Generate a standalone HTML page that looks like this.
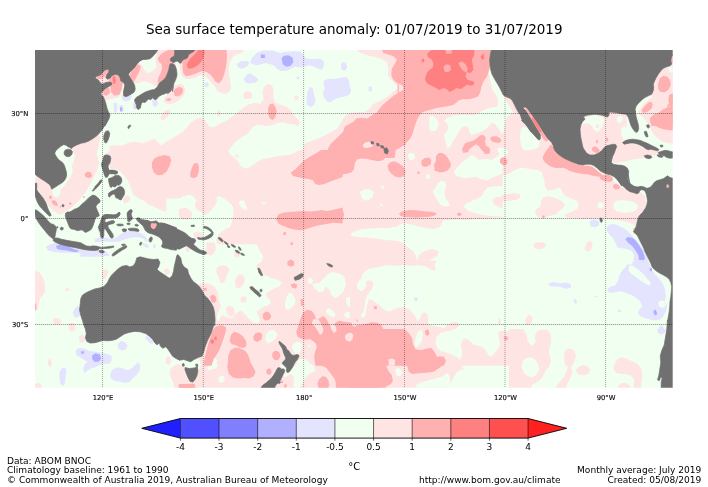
<!DOCTYPE html>
<html lang="en">
<head>
<meta charset="utf-8">
<title>Sea surface temperature anomaly: 01/07/2019 to 31/07/2019</title>
<style>
html,body{margin:0;padding:0;background:#fff;}
body{width:708px;height:487px;overflow:hidden;font-family:"DejaVu Sans","Liberation Sans",sans-serif;}
svg{display:block;font-family:"DejaVu Sans","Liberation Sans",sans-serif;}
</style>
</head>
<body>
<svg width="708" height="487" viewBox="0 0 708 487">
<rect width="708" height="487" fill="#fff"/>
<defs><clipPath id="mapclip"><rect x="35.0" y="50.0" width="637.7" height="337.7"/></clipPath></defs>
<text x="354.2" y="34.2" text-anchor="middle" font-size="13.5" fill="#000">Sea surface temperature anomaly: 01/07/2019 to 31/07/2019</text>
<rect x="35.0" y="50.0" width="637.7" height="337.7" fill="#f0fff0"/>
<g clip-path="url(#mapclip)">
<g fill="#ffe4e4">
<polygon points="93.2,67.6 113.6,67.6 122.6,72.1 123.7,78.9 122.6,85.7 121.5,91.3 120.3,95.8 115.8,98.1 110.2,99.2 104.5,100.4 101.1,101.5 93.2,101.5"/>
<polygon points="155.4,48.4 176.8,48.4 174.6,85.7 156.5,86.8 150.8,83.4 145.2,81.2 140.7,82.3 136.2,83.4 131.6,83.9 128.2,81.2 128.2,74.4 131.6,68.7 136.2,64.2 139.5,63.1 142.9,66.5 145.2,71.0 148.6,73.2 153.1,71.0 156.5,66.5 155.4,60.8 156.5,55.2"/>
<polygon points="176.8,48.4 244.6,48.4 242.4,52.9 237.9,54.0 233.3,56.3 229.9,61.9 228.8,69.9 229.9,78.9 231.1,86.8 229.9,91.3 226.6,93.6 222.0,93.6 217.5,91.3 215.3,86.8 211.9,83.4 208.5,78.9 204.0,75.5 199.4,75.5 194.9,77.8 189.3,78.9 184.7,78.4 181.4,75.5 180.2,69.9 179.1,63.1 178.0,56.3"/>
<polygon points="164.4,98.1 167.8,93.6 171.2,89.1 175.7,85.2 180.2,83.4 184.1,85.7 185.4,90.2 184.1,95.2 180.2,99.2 175.7,102.6 170.1,104.2 165.5,103.3 163.7,101.0"/>
<polygon points="242.8,95.2 244.6,92.0 248.0,90.9 251.0,92.9 251.0,96.5 248.0,99.2 244.6,98.8"/>
<polygon points="217.1,111.7 219.3,110.1 220.9,112.8 219.3,116.9 217.1,115.5"/>
<polygon points="160.6,117.3 162.1,113.9 165.5,110.5 168.9,109.4 170.5,111.7 167.8,116.2 164.4,119.6 161.0,120.7"/>
<polygon points="104.5,155.1 109.0,151.2 115.8,149.0 122.6,145.6 129.4,142.2 136.2,141.7 142.9,143.3 148.6,141.0 154.2,138.8 158.3,142.2 161.0,145.6 165.5,142.2 171.2,138.8 176.8,135.4 182.5,132.0 187.0,127.5 190.4,123.0 194.9,119.6 200.6,117.3 205.1,119.6 207.3,124.1 210.7,127.5 215.3,126.4 220.9,123.0 226.6,120.7 231.1,117.3 235.6,113.9 240.1,110.5 244.6,107.1 249.2,104.2 254.8,103.3 262.7,104.2 262.7,158.0 104.5,158.0"/>
<polygon points="250.0,104.2 254.5,103.3 260.2,104.2 263.6,99.2 262.4,92.5 264.0,86.8 268.1,83.9 272.1,85.7 273.7,90.2 273.1,97.0 275.3,102.6 280.5,104.9 286.2,106.5 290.7,110.5 295.2,116.2 299.3,120.7 299.7,124.1 296.3,126.8 290.7,124.5 283.9,122.3 277.1,123.0 271.5,125.2 265.8,126.4 259.0,124.5 253.4,123.0 250.0,123.0"/>
<polygon points="294.1,97.0 296.3,95.2 298.6,96.5 297.9,99.7 295.2,100.6"/>
<polygon points="247.7,92.5 251.1,92.5 252.3,95.8 251.1,98.8 247.7,98.8"/>
<polygon points="302.0,158.0 303.1,147.8 305.4,143.3 311.0,141.0 317.8,138.8 324.6,135.4 331.4,132.0 337.0,128.6 340.4,124.1 342.7,118.4 346.0,115.1 351.7,112.8 358.5,112.3 365.3,111.7 369.8,108.3 373.2,104.2 378.8,101.5 385.6,98.1 391.2,93.6 396.4,89.1 396.9,85.7 393.5,82.3 390.1,78.9 387.9,74.4 388.3,68.7 387.4,63.1 383.3,59.7 376.6,57.4 369.8,55.8 363.0,54.0 358.5,51.8 356.2,48.4 405.9,48.4 405.9,158.0"/>
<polygon points="398.3,88.3 520.0,88.3 520.0,173.3 398.3,173.3"/>
<polygon points="576.7,111.7 626.7,111.7 626.7,128.3 623.3,140.0 615.0,145.0 601.7,158.3 576.7,158.3"/>
<polygon points="640.0,95.0 640.0,48.3 675.0,48.3 675.0,143.3 668.3,143.3 663.3,141.7 660.0,140.0 656.7,137.5 653.3,134.2 650.8,130.0 649.2,125.8 646.7,121.7 643.3,117.5 640.0,115.0 638.3,111.7 640.0,109.2 642.5,105.8 645.0,102.5 648.3,99.2 650.8,95.0"/>
<polygon points="612.5,145.0 615.0,143.3 623.3,141.7 630.0,142.5 638.3,145.0 646.7,148.3 653.3,150.0 660.0,150.8 664.2,152.5 661.7,155.0 656.7,155.3 651.7,155.8 646.7,157.5 641.7,158.3 636.7,158.7 631.7,159.7 626.7,161.3 621.7,162.0 616.7,163.0 612.5,162.5 611.7,158.3 613.0,153.3 614.2,149.2"/>
<polygon points="75.2,136.4 95.5,136.4 95.5,150.0 97.8,156.8 98.9,163.6 96.7,171.5 93.3,178.2 89.9,185.0 86.5,190.7 83.1,195.2 78.6,200.8 74.1,205.4 69.5,209.2 65.0,212.1 61.6,214.4 57.1,213.3 52.6,209.9 49.2,206.5 45.8,202.0 42.4,196.3 39.0,190.7 36.3,185.0 35.0,179.4 36.8,176.0 41.3,177.1 45.8,180.5 50.3,183.9 53.7,187.3 57.1,190.7 60.5,189.5 63.9,186.2 67.3,181.6 70.7,177.1 72.9,171.5 71.8,165.8 74.1,160.2 75.2,154.5"/>
<polygon points="110.2,145.5 192.7,145.5 192.7,214.4 185.9,212.1 184.8,206.5 183.7,200.8 179.2,198.6 174.6,200.2 171.2,204.2 169.0,209.2 164.5,211.5 158.8,209.2 153.2,206.5 147.5,204.2 144.1,200.8 138.5,198.6 132.8,194.1 130.6,187.3 127.2,179.4 120.4,171.5 114.7,169.2 110.2,168.1 108.0,156.8"/>
<polygon points="123.2,198.9 124.9,196.6 127.2,195.5 129.5,196.6 130.6,198.9 128.9,201.2 126.6,202.9 124.4,203.4 123.0,201.7"/>
<polygon points="180.0,150.0 342.7,150.0 342.7,260.1 180.0,260.1"/>
<polygon points="340.0,150.0 502.7,150.0 502.7,260.1 340.0,260.1"/>
<polygon points="513.6,148.9 556.5,148.9 567.8,159.0 590.4,168.1 606.2,174.9 617.5,183.9 631.1,190.7 639.0,191.8 644.6,195.2 646.9,204.2 641.2,213.3 635.6,225.7 632.2,223.4 626.6,221.9 619.8,220.5 613.0,219.6 606.2,218.9 599.4,218.2 590.4,218.9 581.4,218.9 574.6,218.2 567.8,217.8 563.3,216.0 567.8,213.3 572.3,211.5 576.8,209.2 579.1,205.4 576.8,200.8 571.2,198.6 565.5,196.3 562.1,191.8 559.9,187.3 554.2,189.5 547.5,190.7 545.2,186.2 544.1,179.4 541.8,172.6 537.3,169.2 529.4,168.1 521.5,165.8 515.8,159.0"/>
<polygon points="498.9,195.2 506.8,194.1 513.6,192.9 519.2,194.1 520.8,197.0 516.9,199.7 510.2,200.8 504.5,201.5 498.9,201.5"/>
<polygon points="535.0,213.3 536.2,209.2 540.2,206.5 541.1,200.8 543.4,197.0 548.6,196.3 555.4,197.9 561.0,200.8 565.1,204.2 563.3,208.3 559.2,211.0 555.4,214.4 549.7,216.0 544.1,217.8 538.4,217.3"/>
<polygon points="533.4,243.8 537.3,242.2 542.9,242.2 546.3,244.5 544.1,248.3 538.4,249.4 533.9,247.6"/>
<polygon points="584.7,247.2 587.0,242.2 590.4,240.4 592.7,243.8 591.5,249.0 588.6,251.7 585.4,250.6"/>
<polygon points="498.9,155.6 505.6,156.3 510.2,160.2 511.3,165.8 510.2,171.5 506.8,174.9 498.9,175.3"/>
<polygon points="33.4,270.8 39.0,271.9 42.4,276.5 44.7,283.2 45.4,290.0 43.6,294.5 40.2,297.9 39.0,303.6 37.9,309.2 33.4,310.4"/>
<polygon points="52.6,319.4 56.0,317.8 60.5,319.4 61.6,322.8 58.2,325.1 53.7,323.9"/>
<polygon points="68.4,323.9 71.8,322.3 75.2,323.9 75.2,329.6 71.8,331.8 68.9,329.6"/>
<polygon points="79.3,336.4 82.0,334.5 84.7,336.4 84.7,340.9 82.0,343.1 79.3,341.3"/>
<polygon points="65.0,288.9 67.3,288.0 69.5,289.4 68.0,291.2 65.5,290.7"/>
<polygon points="102.3,270.8 105.7,269.0 108.6,271.3 106.8,276.5 103.4,279.9 101.9,276.5"/>
<polygon points="163.3,269.7 166.7,268.1 170.1,270.4 169.0,274.2 165.1,274.9"/>
<polygon points="165.6,357.8 169.0,356.7 170.6,361.2 169.0,365.1 166.0,363.5"/>
<polygon points="48.1,360.1 50.3,358.5 51.5,365.1 47.6,365.1"/>
<polygon points="190.0,255.0 352.7,255.0 352.7,365.7 190.0,365.7"/>
<polygon points="348.9,253.9 435.9,253.9 437.0,259.5 434.7,265.2 435.9,270.8 431.4,269.7 425.7,266.3 417.8,265.2 411.0,265.8 404.2,265.2 395.2,265.8 387.3,265.2 381.6,266.3 376.0,267.4 370.3,268.6 365.8,270.8 362.4,274.2 361.3,278.7 359.0,281.0 356.8,284.4 357.9,288.9 361.3,291.2 364.7,288.9 366.3,285.5 365.8,282.1 368.1,280.3 372.1,281.0 373.7,284.4 372.1,288.9 369.2,292.3 366.9,295.7 365.4,300.2 364.7,305.8 363.6,311.5 361.3,313.8 360.8,317.1 363.6,317.8 365.8,314.9 366.3,309.2 367.6,303.6 369.2,299.1 372.6,300.2 377.1,303.6 381.6,307.0 385.0,310.4 389.5,311.5 394.1,309.2 398.6,307.4 404.2,307.0 409.2,309.2 412.8,313.3 415.5,317.1 417.8,321.7 420.1,318.3 422.3,313.3 425.7,312.6 428.0,316.0 428.0,321.7 429.1,325.1 434.7,326.2 440.4,326.9 444.5,328.4 447.2,325.1 451.7,322.3 457.3,322.3 459.6,325.1 456.2,328.4 450.6,330.7 444.9,331.8 440.4,333.0 437.0,336.4 435.4,342.0 437.0,347.7 440.4,351.0 446.0,352.6 451.7,354.4 456.2,356.7 459.6,360.1 461.9,355.6 461.9,349.9 460.7,344.3 463.0,339.7 466.4,338.2 469.8,340.9 473.2,344.3 476.6,345.4 481.1,346.5 485.6,349.9 487.9,354.4 491.2,356.7 494.6,353.3 498.0,348.8 500.3,344.3 499.2,338.6 498.0,333.0 500.3,330.7 504.8,330.7 512.7,331.8 512.7,365.7 348.9,365.7"/>
<polygon points="498.0,318.7 500.5,318.3 501.0,323.5 498.5,323.9"/>
<polygon points="508.9,333.0 513.4,334.1 515.6,338.6 517.9,343.1 519.0,337.5 521.3,333.0 524.7,331.4 526.9,335.2 527.6,340.9 531.5,345.4 534.9,347.7 536.0,342.0 534.9,337.5 538.2,334.1 541.6,330.7 546.2,329.6 549.5,333.0 551.1,338.6 550.2,344.3 548.4,349.9 549.5,355.6 550.7,361.2 548.4,365.7 508.9,365.7"/>
<polygon points="525.4,319.4 527.6,315.6 530.8,314.9 532.6,318.3 531.5,322.8 528.1,325.5 525.4,323.9"/>
<polygon points="564.2,354.4 566.5,350.4 570.6,348.8 574.4,351.0 576.0,355.6 574.4,361.2 572.1,365.7 565.4,365.7 564.2,360.1"/>
<polygon points="616.2,362.3 619.6,359.0 624.1,357.8 628.6,359.4 632.0,363.0 633.2,365.7 615.8,365.7"/>
<polygon points="170.1,369.5 173.5,366.2 178.0,363.9 182.5,365.7 185.9,369.5 188.2,374.1 192.7,378.6 192.7,388.8 174.6,388.8 173.5,383.1 171.2,378.6 169.7,374.1"/>
<polygon points="166.7,357.1 169.7,356.0 171.2,360.5 169.7,364.4 166.9,362.8"/>
<polygon points="33.4,384.2 39.0,383.1 41.8,385.4 41.3,388.8 33.4,388.8"/>
<polygon points="48.1,361.6 50.3,359.4 52.1,362.8 50.8,366.6 48.5,365.7"/>
<polygon points="383.9,361.6 447.2,361.6 452.8,363.9 456.2,360.5 464.1,368.9 459.6,370.2 456.2,372.9 453.5,377.5 451.2,382.0 449.4,388.8 415.5,388.8 383.9,388.8"/>
<polygon points="508.9,328.9 523.6,328.9 525.8,334.5 523.6,340.2 524.7,345.8 528.1,348.1 532.6,345.8 536.0,341.3 534.9,335.6 537.1,331.1 541.6,330.0 547.3,330.0 550.7,334.5 551.1,341.3 549.5,348.1 548.4,354.9 550.7,360.5 549.5,366.2 546.2,369.5 543.9,374.1 541.6,378.6 537.1,382.0 532.6,384.2 530.3,388.8 508.9,388.8"/>
<polygon points="564.2,354.9 565.4,350.3 569.2,348.5 573.3,350.3 575.1,354.9 573.3,360.5 571.0,366.2 572.1,371.8 570.6,377.5 567.6,383.1 565.4,388.8 555.2,388.8 557.5,384.2 560.8,380.8 564.2,376.3 566.5,371.8 567.6,367.3 566.0,361.6"/>
<polygon points="575.5,370.7 578.9,366.6 583.4,365.0 588.0,366.2 590.2,370.2 588.0,374.1 583.4,375.2 578.9,374.7"/>
<polygon points="613.5,369.5 615.1,362.8 618.5,358.2 623.0,357.1 627.5,359.4 633.2,361.6 637.7,363.9 641.1,368.4 642.2,375.2 641.5,382.0 641.1,388.8 633.2,388.8 634.3,382.0 633.2,377.5 629.8,375.2 625.3,374.1 620.7,374.1 616.2,372.9"/>
<polygon points="618.5,385.4 621.9,383.1 626.4,383.1 629.8,385.4 630.9,388.8 618.0,388.8"/>
<polygon points="188.9,363.9 352.7,363.9 352.7,389.2 188.9,389.2"/>
<polygon points="518.3,113.3 521.7,111.7 556.7,141.7 560.0,155.0 545.0,170.0 518.3,170.0"/>
<polygon points="71.8,140.7 84.2,137.3 97.8,131.6 100.5,137.3 98.9,145.2 96.7,153.1 93.3,158.8 84.2,156.5 75.2,155.4 71.8,148.6"/>
<polygon points="478.0,74.4 488.6,69.4 489.9,78.9 492.2,90.2 479.1,91.3"/>
</g>
<g fill="#f0fff0">
<polygon points="429.2,116.7 432.5,115.8 435.8,118.3 438.7,122.5 437.5,127.5 435.8,130.8 431.7,131.3 429.2,129.2"/>
<polygon points="444.2,120.8 447.5,117.5 453.3,115.8 460.0,115.0 466.7,115.0 473.3,115.3 478.3,113.3 482.5,110.8 486.7,108.7 491.7,107.5 496.7,106.7 498.3,103.3 497.5,98.3 495.0,93.3 492.5,90.0 492.5,80.0 500.0,80.0 500.0,90.0 503.3,95.8 506.7,101.7 510.0,106.7 513.3,112.5 510.0,115.0 506.7,117.5 505.3,123.3 504.2,129.2 502.5,134.2 500.0,130.8 497.5,127.5 495.0,124.2 492.5,122.5 490.0,125.0 486.7,128.3 483.3,130.8 479.2,132.5 475.0,133.7 471.7,135.0 469.2,131.7 468.3,127.5 465.8,125.8 462.5,126.7 460.0,130.0 457.5,134.2 455.0,138.3 452.5,142.5 450.0,146.7 447.5,149.2 446.3,145.0 445.0,140.0 444.2,135.0 446.7,131.7 448.3,127.5 447.5,124.2"/>
<polygon points="455.0,171.0 457.5,166.7 460.8,163.3 465.0,160.0 469.2,156.7 472.5,155.0 475.0,156.7 478.3,160.0 481.7,162.5 486.7,161.7 491.7,160.0 496.7,156.7 500.0,153.3 499.2,149.2 501.7,148.3 504.2,150.8 505.0,156.7 503.3,161.7 500.0,165.0 495.8,167.5 493.3,171.0"/>
<polygon points="408.3,155.8 410.8,153.0 414.2,154.2 415.3,156.7 413.3,159.7 410.0,159.7"/>
<polygon points="581.7,121.7 585.0,118.3 589.2,116.3 593.3,115.3 598.3,115.8 602.5,117.5 604.2,120.0 603.7,123.3 601.7,127.5 599.2,130.8 596.7,132.0 594.2,130.0 592.5,126.7 590.0,124.2 586.7,123.3 583.3,124.2 580.8,125.0"/>
<polygon points="616.7,117.5 620.0,115.8 623.0,117.5 622.0,121.7 619.2,123.3 617.0,121.7"/>
<polygon points="620.8,129.2 624.2,125.8 626.7,127.5 630.0,130.8 634.2,133.0 638.3,134.2 640.0,136.7 635.8,138.0 630.8,138.7 626.7,139.7 623.3,138.7 621.3,135.0"/>
<polygon points="643.3,100.0 646.7,97.5 650.8,95.0 652.5,96.7 648.3,100.0 645.0,102.5 642.5,103.3"/>
<polygon points="668.3,67.5 670.8,66.7 675.0,67.5 675.0,71.7 670.0,72.5 668.3,70.0"/>
<polygon points="52.6,188.0 57.1,186.2 60.5,189.5 59.4,194.1 55.3,195.2 52.1,192.5"/>
<polygon points="52.6,191.1 55.4,190.0 59.4,190.0 60.5,192.3 59.6,195.1 57.7,197.0 55.4,197.3 53.5,195.6 52.6,193.4"/>
<polygon points="228.6,148.9 299.8,148.9 295.3,152.3 288.5,153.4 281.7,154.1 274.9,155.0 268.1,156.8 261.4,159.0 255.7,162.4 251.2,165.8 246.7,168.1 242.1,166.9 239.2,163.6 238.3,159.0 235.4,155.6 230.8,153.4"/>
<polygon points="166.4,198.6 180.0,198.6 183.4,196.3 189.0,194.7 193.6,196.3 196.3,200.8 194.7,205.4 196.9,209.9 201.5,212.1 204.9,215.5 208.2,213.3 211.6,209.9 215.0,205.4 217.3,200.8 216.2,197.5 219.5,196.3 224.1,198.6 228.6,202.0 232.4,205.4 233.8,209.9 233.1,215.5 232.0,221.2 230.8,225.7 228.6,228.0 225.2,229.1 221.8,231.4 218.4,234.7 216.2,239.3 217.3,243.8 219.5,247.2 225.2,249.4 232.0,250.6 238.8,251.7 245.5,252.8 252.3,252.1 258.0,251.7 261.8,254.0 263.2,257.3 261.4,260.7 166.4,260.7"/>
<polygon points="238.3,203.1 241.0,200.2 244.4,200.8 246.0,205.4 247.8,209.2 244.4,209.9 241.0,206.9"/>
<polygon points="261.8,202.4 265.4,202.0 265.9,204.2 262.3,204.2"/>
<polygon points="350.2,234.7 353.6,231.8 360.3,229.5 369.4,228.6 378.4,228.0 387.5,228.0 396.5,226.8 401.0,224.1 405.5,223.4 412.3,224.6 419.1,226.4 425.9,228.0 432.7,229.1 438.3,228.0 441.7,224.6 442.8,220.5 448.5,220.1 457.5,219.6 466.6,220.1 475.6,218.9 484.6,218.9 493.7,217.8 502.7,217.8 502.7,260.7 416.8,260.7 415.7,255.1 412.3,250.6 407.8,247.2 404.4,243.8 398.8,241.1 392.0,240.4 385.2,239.9 378.4,238.8 371.6,238.1 364.9,237.5 358.1,237.0 352.4,236.3"/>
<polygon points="359.9,191.8 363.7,189.5 369.4,188.9 373.4,191.8 372.8,196.3 369.4,199.7 364.9,200.8 361.5,197.9"/>
<polygon points="381.1,185.7 384.1,185.7 384.1,188.4 381.1,188.4"/>
<polygon points="380.2,203.8 382.5,203.8 382.5,206.0 380.2,206.0"/>
<polygon points="407.8,154.5 410.5,152.7 414.1,154.1 415.0,157.2 412.3,160.2 408.9,159.0"/>
<polygon points="425.9,176.0 428.6,173.7 430.4,176.0 429.3,178.9 426.3,178.9"/>
<polygon points="432.7,190.7 436.0,187.3 438.3,182.8 441.7,180.5 445.1,181.6 446.2,186.2 444.4,191.8 445.1,197.5 448.0,201.5 450.3,205.4 446.2,206.5 441.7,205.4 438.3,202.0 436.0,197.5 433.8,194.1"/>
<polygon points="454.1,171.5 457.5,166.9 462.0,163.6 467.7,161.8 473.3,160.8 480.1,159.5 486.9,159.0 493.7,160.2 502.7,162.4 502.7,173.7 495.9,176.0 491.4,178.2 486.9,180.5 481.2,178.9 475.6,177.1 469.9,177.6 464.3,178.2 458.6,176.7 455.3,174.4"/>
<polygon points="463.2,206.5 466.6,203.1 472.2,200.8 477.9,198.6 482.4,195.2 484.6,190.7 488.0,187.3 493.7,186.2 502.7,186.2 502.7,196.3 495.9,197.0 492.5,199.7 493.7,204.2 498.2,206.5 502.7,209.2 502.7,216.7 493.7,216.0 486.9,215.5 480.1,214.4 473.3,212.8 467.7,210.6"/>
<polygon points="597.2,204.2 599.9,202.0 603.5,203.1 604.0,206.5 601.2,208.3 597.6,207.6"/>
<polygon points="613.0,204.2 616.4,200.8 622.0,200.2 628.8,200.8 634.5,202.4 637.9,205.4 636.7,209.9 632.2,212.1 625.4,212.8 618.6,212.1 614.1,209.2"/>
<polygon points="312.0,284.4 315.4,288.9 318.8,292.3 323.3,291.2 325.6,286.6 329.0,288.9 331.2,294.5 334.6,297.9 339.2,295.7 343.7,291.2 345.9,284.4 344.8,277.6 341.4,274.2 336.9,273.1 332.4,271.9 329.0,273.1 325.6,276.5 322.2,279.9 318.8,283.2 315.4,283.2"/>
<polygon points="307.5,278.7 310.9,277.6 313.2,280.3 311.6,283.9 308.0,283.2"/>
<polygon points="325.6,310.4 329.0,308.1 332.4,310.4 335.8,314.2 334.2,317.1 330.1,316.0 326.7,313.3"/>
<polygon points="343.7,314.2 347.1,311.9 350.0,312.6 350.0,317.8 345.9,318.3"/>
<polygon points="345.9,297.9 350.0,296.8 350.0,307.0 347.1,305.8"/>
<polygon points="188.9,361.2 194.5,357.8 199.0,359.0 201.3,365.7 188.9,365.7"/>
<polygon points="211.5,357.8 214.9,356.7 217.1,361.2 215.3,365.7 211.5,365.7"/>
<polygon points="189.2,244.2 206.7,244.2 205.8,250.0 207.5,254.2 210.8,255.8 214.2,253.3 215.8,249.2 215.0,244.2 256.7,244.2 260.0,251.7 263.3,256.7 261.7,261.7 256.7,265.0 256.7,268.3 260.0,271.7 265.0,275.0 271.7,278.3 278.3,280.0 281.7,282.5 280.0,285.8 275.0,288.3 270.0,290.8 265.8,293.3 266.7,296.7 270.0,300.0 270.8,303.3 267.5,305.8 263.3,306.7 260.0,309.2 256.7,311.7 258.3,315.0 260.0,320.0 258.3,323.3 253.3,322.5 248.3,318.3 245.0,314.2 241.7,310.8 238.3,311.7 235.0,314.2 233.3,317.5 230.0,318.3 225.8,316.7 222.5,315.0 220.0,318.3 218.3,321.7 216.7,318.3 217.5,313.3 220.0,309.2 220.8,305.0 219.2,300.8 218.3,295.8 217.5,291.7 215.0,287.5 211.7,285.0 207.5,283.3 203.3,283.0 200.0,283.7 196.7,285.0 193.3,284.2 189.2,278.3"/>
<polygon points="285.0,301.7 286.7,296.7 289.2,292.5 292.0,293.3 294.2,296.7 295.8,300.8 294.2,305.0 290.8,308.3 287.5,310.0 285.0,307.5"/>
<polygon points="414.4,345.4 415.5,338.6 417.8,331.8 421.2,329.6 422.8,334.1 421.9,340.9 418.9,345.4 416.0,347.7"/>
<polygon points="206.9,367.3 210.3,363.9 214.9,362.8 218.2,365.0 216.0,368.4 211.5,369.5 208.1,370.7"/>
<polygon points="218.2,378.6 220.5,375.2 223.9,376.3 225.0,380.2 222.1,383.1 218.9,382.0"/>
<polygon points="188.9,363.9 194.5,361.6 199.0,363.9 200.2,368.4 196.8,371.8 192.3,370.7 188.9,369.5"/>
<polygon points="265.7,334.5 269.1,331.1 273.6,330.0 277.0,333.4 275.9,337.9 272.5,341.3 268.0,342.4 265.7,339.0"/>
<polygon points="415.5,388.8 416.7,384.2 422.3,382.0 429.1,380.2 435.9,378.6 442.7,376.3 447.2,372.9 449.4,375.2 450.6,382.0 449.4,388.8"/>
<polygon points="395.2,369.5 397.9,368.0 401.5,369.5 402.4,373.4 399.7,376.3 396.3,375.2"/>
<polygon points="522.4,361.6 525.8,358.2 530.3,357.1 534.9,359.4 538.2,363.9 539.4,369.5 537.1,374.1 532.6,377.5 528.1,376.3 524.0,372.9 521.8,367.3"/>
<polygon points="292.5,345.0 295.0,342.5 299.2,341.7 301.7,344.2 301.3,348.3 300.0,351.7 299.2,355.0 295.8,354.2 293.3,350.8 292.0,347.5"/>
<polygon points="298.3,360.0 303.3,358.3 307.5,360.8 310.8,364.2 314.2,366.7 315.0,370.0 312.5,372.5 309.2,373.3 306.7,376.7 304.2,380.0 301.7,384.2 299.2,388.3 294.2,388.3 293.3,384.2 294.2,380.0 293.3,375.8 290.8,374.2 287.5,375.8 285.0,377.5 283.3,375.8 285.0,372.5 287.5,370.0 290.8,368.3 294.2,366.7 296.7,363.3"/>
<polygon points="265.0,340.0 266.7,335.0 269.2,331.7 272.5,330.3 275.8,331.7 277.5,334.2 275.8,337.5 273.3,340.0 270.8,342.5 267.5,343.3"/>
<polygon points="280.0,365.8 282.5,364.2 285.0,365.0 285.8,368.3 283.3,370.0 280.8,369.2"/>
<polygon points="307.5,345.8 309.2,345.0 310.3,346.7 308.7,348.0"/>
<polygon points="228.6,151.0 234.2,143.1 241.0,137.5 247.8,134.1 252.3,127.3 258.0,124.4 265.9,126.2 274.9,125.7 284.0,123.9 293.0,123.9 299.8,127.3 303.2,130.7 303.2,149.2 297.5,151.0 290.7,154.4 284.0,155.5 277.2,156.0 270.4,157.8 263.6,158.9 258.0,161.2 252.3,165.7 246.7,168.6 241.0,166.8 238.3,161.2 234.2,157.8 230.2,154.4"/>
<polygon points="520.8,129.2 523.3,126.7 527.5,127.5 530.8,130.8 534.2,135.0 537.5,139.2 540.0,143.7 538.3,147.5 534.2,149.2 530.0,150.0 525.8,150.8 522.5,149.2 520.8,144.2 520.0,138.3 520.3,133.3"/>
<polygon points="507.5,181.0 508.3,175.8 511.7,171.7 516.7,169.2 521.7,167.5 525.8,168.3 530.8,169.2 535.8,170.0 540.0,171.7 542.5,175.0 543.3,181.0"/>
<polygon points="497.5,148.3 500.0,147.5 505.8,148.3 508.3,151.7 506.7,155.0 503.3,155.8 500.0,154.2 498.0,151.7"/>
</g>
<g fill="#ffb0b0">
<polygon points="110.2,75.5 113.6,73.9 118.1,75.5 121.5,78.9 122.6,84.5 121.5,90.2 119.2,94.7 114.7,95.8 111.3,92.5 110.2,86.8 109.0,81.2"/>
<polygon points="102.3,87.9 105.6,85.7 109.0,87.9 110.2,92.5 106.8,95.8 103.4,94.7"/>
<polygon points="95.5,75.5 100.0,73.2 103.4,71.0 106.8,68.7 109.0,69.9 106.8,73.2 104.5,76.6 101.1,78.9 97.7,78.9"/>
<polygon points="129.4,75.5 131.6,71.0 135.0,66.5 138.4,64.2 140.7,66.5 139.5,71.0 137.3,75.5 135.0,80.0 132.8,82.3 130.5,81.2 128.9,78.9"/>
<polygon points="157.6,58.6 161.0,54.0 165.5,51.3 172.3,48.4 175.7,48.4 174.6,55.2 172.3,58.6 170.5,64.2 168.9,69.9 166.7,75.5 163.3,80.0 159.9,83.9 157.6,82.3 158.3,77.8 160.6,73.2 162.1,68.7 161.5,64.2 159.2,61.9"/>
<polygon points="182.5,60.8 184.7,56.3 188.1,52.9 192.7,48.4 226.6,48.4 227.0,56.3 226.6,63.1 225.4,69.9 223.8,75.5 222.0,80.0 218.6,83.4 215.3,81.2 213.0,77.8 210.3,74.4 206.2,72.1 202.8,71.0 199.4,72.1 194.9,73.9 190.4,75.5 185.9,76.2 183.2,73.2 182.5,67.6"/>
<polygon points="173.4,91.3 175.7,88.4 179.1,86.8 182.5,87.9 183.2,91.3 181.4,94.7 178.0,96.5 174.6,95.8"/>
<polygon points="166.0,99.2 168.9,97.9 171.9,99.2 169.6,101.0 166.7,100.8"/>
<polygon points="268.1,108.3 269.9,104.2 272.6,103.3 275.3,106.5 276.7,111.7 275.3,117.3 272.6,120.0 269.9,118.4 268.1,113.9"/>
<polygon points="329.1,158.0 328.0,149.0 330.2,144.4 334.7,139.9 339.3,135.4 343.1,132.0 344.9,126.4 349.4,124.1 353.5,121.8 356.2,118.4 361.9,117.8 367.5,118.4 372.0,115.1 376.6,112.8 379.9,108.3 383.3,104.2 387.9,100.4 393.5,95.8 398.0,92.9 401.9,91.3 403.7,87.9 400.3,84.5 395.8,82.3 392.8,78.9 391.2,74.4 391.9,68.7 394.6,64.2 396.9,59.7 393.5,56.3 387.9,54.5 383.3,52.9 381.1,48.4 405.9,48.4 405.9,144.4 395.8,150.1 394.6,158.0"/>
<polygon points="462.5,148.3 465.0,143.3 469.2,141.7 473.3,140.8 476.7,138.3 480.0,135.3 483.3,135.0 485.8,137.5 485.0,141.7 485.8,145.8 489.2,147.5 490.3,150.8 488.3,153.7 485.0,153.0 481.7,150.0 478.3,145.8 475.8,144.2 472.5,146.7 469.2,149.2 465.8,151.7 463.3,152.5"/>
<polygon points="490.0,138.3 492.5,136.3 496.7,136.3 500.0,138.3 501.7,140.8 499.2,143.0 495.0,142.5 491.7,141.3"/>
<polygon points="500.0,159.2 502.5,157.5 505.8,158.3 507.5,161.7 505.8,165.0 502.5,165.0 500.0,162.5"/>
<polygon points="435.8,156.7 438.3,153.3 441.7,153.0 445.0,155.8 448.3,160.0 450.8,164.2 449.2,168.3 446.7,171.0 434.2,171.0 435.0,166.7 436.7,162.5"/>
<polygon points="421.7,160.8 425.0,158.0 429.2,157.5 431.3,160.0 430.8,164.2 427.5,165.8 423.3,166.7 421.3,164.2"/>
<polygon points="400.0,165.0 402.5,165.8 404.2,168.3 403.3,171.0 400.0,171.0"/>
<polygon points="398.3,145.0 400.0,145.0 405.0,141.7 410.0,138.3 412.5,133.3 413.3,128.3 415.0,123.3 416.7,119.2 419.2,115.0 422.5,111.7 426.7,109.2 431.7,107.5 436.7,106.7 443.3,106.7 448.3,105.0 453.3,103.3 457.5,100.8 462.5,99.2 468.3,99.2 473.3,98.3 477.0,96.7 479.2,93.3 479.7,90.0 479.7,88.3 398.3,88.3"/>
<polygon points="397.7,48.4 491.5,48.4 490.4,58.6 489.9,67.6 487.0,76.6 483.6,81.2 481.4,86.8 480.2,92.5 478.0,96.5 472.3,98.1 465.5,98.8 459.9,99.2 456.5,102.6 453.1,104.9 448.6,106.0 442.9,107.1 437.3,107.8 431.6,109.4 426.0,111.0 421.5,112.8 418.1,117.3 415.8,123.0 414.0,128.6 412.4,134.3 410.2,138.8 406.8,142.2 403.4,144.4 400.0,145.6 397.7,145.6"/>
<polygon points="591.7,148.3 594.2,146.3 597.5,147.5 600.0,150.8 598.0,153.0 594.7,152.5 592.5,150.8"/>
<polygon points="595.8,140.3 597.7,140.0 598.0,143.0 596.2,143.3"/>
<polygon points="605.8,138.0 608.0,137.5 608.3,141.3 606.3,141.7"/>
<polygon points="650.0,118.3 653.3,115.0 658.3,113.3 665.0,112.5 675.0,111.7 675.0,130.8 668.3,130.0 663.3,129.2 658.3,127.5 654.2,125.0 650.8,121.7"/>
<polygon points="641.7,110.0 645.0,106.7 649.2,103.3 652.5,104.2 651.7,108.3 648.3,110.8 645.0,112.5 642.5,112.5"/>
<polygon points="666.7,107.5 670.0,105.8 675.0,105.0 675.0,95.0 669.2,95.0 668.3,100.0 669.2,103.3 667.5,105.0"/>
<polygon points="658.3,83.3 660.0,78.3 663.3,75.8 667.5,76.7 670.0,80.0 670.8,85.0 668.3,90.0 664.2,92.5 660.0,91.7 658.0,88.3"/>
<polygon points="641.7,110.0 645.0,105.8 648.3,102.5 651.7,101.7 652.5,105.0 650.8,109.2 647.5,111.7 644.2,112.5"/>
<polygon points="669.2,95.0 675.0,91.7 675.0,108.3 670.0,106.7 668.7,101.7"/>
<polygon points="650.0,118.3 653.3,115.0 658.3,113.0 663.3,109.2 668.3,107.0 675.0,106.3 675.0,126.0 651.7,126.0 650.3,122.5"/>
<polygon points="669.2,55.0 675.0,55.0 675.0,63.7 670.8,63.3 669.7,60.0"/>
<polygon points="84.7,173.7 87.6,171.5 91.0,172.6 92.4,176.0 89.2,178.2 85.6,177.1"/>
<polygon points="152.0,162.4 154.3,158.6 158.8,156.3 164.5,155.0 169.7,156.3 171.2,160.2 169.7,165.8 166.7,171.5 162.2,174.9 157.7,175.3 153.8,172.6 152.0,167.6"/>
<polygon points="51.5,201.3 53.2,199.9 55.4,200.7 57.1,203.0 58.0,205.3 56.6,206.0 54.3,205.3 52.4,203.6"/>
<polygon points="49.0,196.2 50.9,195.6 52.0,197.3 51.2,199.3 49.4,198.8"/>
<polygon points="69.0,203.0 70.7,202.2 71.8,203.6 70.5,204.9 69.1,204.5"/>
<polygon points="82.9,196.2 84.5,195.9 84.9,197.5 83.3,197.9"/>
<polygon points="59.6,206.0 60.7,205.8 61.0,207.5 59.8,207.7"/>
<polygon points="190.2,173.7 191.8,168.1 194.0,163.6 197.6,163.1 199.0,166.9 198.5,172.6 196.9,177.1 193.1,178.2 190.4,177.1"/>
<polygon points="290.7,172.6 295.3,169.2 299.8,164.7 304.3,160.2 309.9,156.8 315.6,153.4 321.2,150.0 342.7,150.0 342.7,177.1 335.9,179.4 330.3,181.6 324.6,183.9 319.0,185.0 315.1,183.9 313.3,180.5 308.8,178.9 303.2,178.2 297.5,177.1 293.0,176.0"/>
<polygon points="276.0,218.9 278.3,214.4 282.8,212.8 289.6,212.1 296.4,211.5 303.2,211.0 309.9,211.5 316.7,211.0 321.2,209.9 326.9,211.0 332.5,209.9 342.7,207.6 342.7,223.4 333.7,222.8 326.9,224.1 320.1,225.0 313.3,226.8 306.6,229.1 300.9,230.2 294.1,229.5 288.5,228.0 282.8,225.7 278.3,223.4"/>
<polygon points="283.1,232.5 285.8,231.8 286.2,234.7 283.5,235.2"/>
<polygon points="290.7,242.2 293.0,242.2 293.0,244.9 290.7,244.9"/>
<polygon points="337.7,147.7 395.4,147.7 394.2,153.4 390.8,155.6 386.3,156.8 382.9,160.2 378.4,161.3 372.8,160.2 367.1,159.0 361.5,158.6 356.9,159.5 354.7,163.6 354.0,169.2 351.3,172.6 346.8,173.7 342.3,174.4 337.7,174.9"/>
<polygon points="387.5,165.8 389.7,162.4 394.2,161.3 399.2,163.6 403.3,166.9 405.5,171.5 404.4,176.0 399.9,177.6 395.4,176.7 391.5,173.7 388.6,170.3"/>
<polygon points="421.4,161.3 424.1,158.6 428.6,157.9 430.8,160.8 429.9,164.7 426.3,166.9 422.5,165.8"/>
<polygon points="433.8,165.8 436.0,160.2 437.6,154.5 441.2,152.7 445.1,154.5 448.0,157.9 450.3,162.4 450.7,166.3 448.0,169.9 444.0,172.1 439.4,172.6 436.0,170.8"/>
<polygon points="399.2,213.3 403.3,211.0 410.1,209.9 418.0,210.6 425.9,211.5 432.7,212.1 436.7,213.3 434.9,215.5 429.3,216.7 422.5,217.3 415.7,217.8 408.9,217.3 403.3,216.7 399.9,215.5"/>
<polygon points="337.7,209.2 342.7,209.9 344.1,214.4 342.7,219.6 337.7,221.9"/>
<polygon points="457.1,213.3 459.8,212.4 462.0,214.2 459.8,216.0 457.5,215.5"/>
<polygon points="462.0,148.9 468.8,148.9 468.4,152.3 463.2,152.7"/>
<polygon points="482.8,148.9 490.3,148.9 489.6,153.6 484.6,154.1"/>
<polygon points="417.3,171.7 419.5,171.2 419.8,173.7 417.5,174.0"/>
<polygon points="542.9,156.8 545.2,152.3 548.6,150.0 555.4,150.0 561.0,155.6 567.8,160.2 574.6,163.6 581.4,165.4 589.3,165.8 594.9,169.2 599.4,172.6 602.8,175.3 599.4,176.7 593.8,176.0 588.1,174.4 581.4,173.7 574.6,172.6 568.9,170.8 565.5,166.9 560.6,167.6 555.4,168.1 550.2,166.3 545.2,162.4"/>
<polygon points="599.4,176.7 602.8,174.9 608.5,174.9 612.5,177.1 613.0,180.5 609.6,182.1 604.4,181.2 600.6,179.4"/>
<polygon points="613.0,185.0 616.4,183.4 619.8,186.2 619.3,188.9 615.7,189.5 613.4,188.0"/>
<polygon points="501.1,157.9 504.5,157.2 507.2,160.2 506.8,164.0 503.4,165.4 501.1,163.1"/>
<polygon points="632.9,229.1 635.1,227.3 638.3,228.0 637.9,231.4 634.5,232.5"/>
<polygon points="542.0,215.8 544.3,215.3 544.7,218.0 542.5,218.2"/>
<polygon points="33.4,303.6 36.3,303.6 36.3,310.4 33.4,310.4"/>
<polygon points="203.6,365.7 204.7,357.8 206.3,351.0 208.1,344.3 210.3,337.5 212.6,330.7 216.0,326.2 221.6,325.1 226.2,327.3 225.7,331.8 223.9,337.5 221.6,344.3 219.4,349.9 216.7,354.4 213.7,359.0 211.5,365.7"/>
<polygon points="229.5,340.9 230.7,335.2 234.1,331.8 238.6,333.0 243.1,336.4 246.0,340.9 246.5,345.4 244.2,348.1 239.7,347.2 235.2,344.9 231.8,344.3"/>
<polygon points="228.4,355.6 230.7,349.9 235.2,347.7 240.8,348.8 245.4,351.0 248.3,355.6 249.9,361.2 249.2,365.7 229.5,365.7 228.0,360.1"/>
<polygon points="253.3,336.4 255.5,333.0 259.6,332.3 262.3,335.2 261.2,339.7 257.3,342.0 254.0,340.4"/>
<polygon points="272.5,354.4 274.7,351.0 278.6,351.7 280.4,355.6 278.6,359.4 274.7,360.1 272.5,357.1"/>
<polygon points="262.8,314.2 265.7,311.5 269.5,312.6 271.4,316.5 269.1,320.1 265.0,320.5 262.8,317.8"/>
<polygon points="209.9,296.8 212.6,294.5 215.3,296.1 216.7,300.2 214.4,302.9 211.5,302.0"/>
<polygon points="203.6,288.2 206.5,287.8 206.9,290.5 204.0,290.7"/>
<polygon points="287.2,261.8 290.6,259.5 294.0,261.3 294.4,265.2 291.2,266.8 287.6,265.2"/>
<polygon points="290.6,284.4 294.0,283.2 297.3,284.8 296.2,288.4 292.1,287.8"/>
<polygon points="300.7,299.1 303.4,299.1 303.4,305.8 300.7,305.8"/>
<polygon points="296.2,331.8 298.5,325.1 300.7,318.3 303.0,312.6 307.5,309.7 312.0,311.0 314.7,314.9 316.1,319.4 319.9,318.3 323.3,316.0 326.7,319.4 329.0,323.9 332.4,326.2 335.8,322.8 339.2,320.5 343.7,321.7 352.7,322.8 352.7,365.7 315.4,365.7 314.3,359.0 315.4,352.2 317.7,346.5 314.3,342.0 309.8,339.1 305.3,339.7 300.7,338.6 297.3,336.4"/>
<polygon points="348.9,325.1 354.5,325.5 360.2,325.1 365.8,323.9 371.5,322.3 377.1,322.8 381.6,325.1 383.9,330.7 388.4,333.0 394.1,331.8 399.7,330.7 404.2,333.0 409.2,335.2 412.1,339.7 412.8,345.4 415.5,349.9 421.2,351.0 426.8,349.5 431.4,348.8 434.7,352.2 437.0,356.7 440.4,356.2 443.8,357.8 446.0,361.2 443.8,365.7 348.9,365.7"/>
<polygon points="352.3,320.5 355.0,318.7 357.9,320.5 356.8,323.9 353.4,324.6"/>
<polygon points="373.7,306.5 376.7,306.1 377.1,308.8 374.2,309.2"/>
<polygon points="425.0,330.7 428.0,329.1 429.5,333.0 428.0,335.9 425.3,334.5"/>
<polygon points="504.1,336.8 507.1,335.9 508.2,339.1 505.9,340.9 504.1,339.1"/>
<polygon points="180.3,384.2 192.7,383.8 192.7,388.8 180.3,388.8"/>
<polygon points="228.4,359.4 230.2,352.6 234.1,348.5 238.6,347.6 243.1,349.9 246.5,352.6 248.8,357.1 250.6,362.8 253.3,367.3 255.5,371.8 253.7,376.3 249.2,378.6 244.2,377.9 238.6,378.6 232.9,377.5 228.9,374.1 227.3,367.3"/>
<polygon points="272.5,352.6 275.4,350.8 278.6,352.6 279.3,356.7 276.3,359.4 273.2,357.6"/>
<polygon points="266.4,370.2 269.1,368.4 271.4,371.1 269.5,374.7 266.8,374.1"/>
<polygon points="178.7,384.2 194.5,383.8 195.6,388.8 178.7,388.8"/>
<polygon points="348.9,328.9 404.2,328.9 409.2,333.4 412.1,337.9 412.8,343.6 415.5,349.2 421.2,350.3 426.8,348.5 431.4,348.1 434.1,351.5 434.7,357.1 437.0,360.5 440.4,358.2 443.1,356.0 445.4,359.4 443.8,363.9 440.4,367.3 437.0,369.5 433.6,371.8 428.0,372.5 422.3,372.9 416.7,373.4 412.1,374.1 408.8,371.8 407.6,367.3 406.0,363.9 403.1,366.2 400.8,363.9 397.5,361.6 392.9,361.6 388.4,362.8 386.2,366.2 388.4,370.7 391.8,375.2 392.9,380.8 390.7,384.2 386.2,386.5 385.0,388.8 348.9,388.8"/>
<polygon points="316.7,345.0 316.7,347.5 315.0,351.7 314.2,355.8 315.8,360.0 318.3,363.3 322.5,365.8 326.7,368.3 329.2,371.7 331.7,375.0 334.2,378.3 335.8,382.5 335.8,388.3 380.0,388.3 380.0,345.0"/>
<polygon points="317.5,383.3 319.2,379.2 322.5,376.3 325.8,376.7 328.3,380.0 329.2,384.2 328.3,388.3 318.3,388.3"/>
<polygon points="272.5,354.2 274.2,351.7 277.5,351.3 279.7,353.3 280.0,357.0 278.0,359.7 274.7,359.7 272.7,357.5"/>
<polygon points="266.7,370.8 268.7,368.3 270.8,369.2 271.7,372.5 269.7,374.7 267.0,373.7"/>
<polygon points="259.2,333.3 261.7,333.3 261.7,337.5 259.2,337.5"/>
<polygon points="280.8,380.8 283.0,380.8 283.0,383.0 280.8,383.0"/>
<polygon points="284.2,384.2 286.7,384.2 286.7,387.5 284.2,387.5"/>
<polygon points="542.5,158.3 544.2,154.2 546.7,150.0 549.2,146.7 550.8,144.2 553.3,146.7 555.8,150.8 559.2,154.2 563.3,157.5 568.3,160.8 573.3,163.3 578.3,165.8 583.3,166.7 588.3,165.8 592.5,166.7 596.7,170.0 599.2,173.3 596.7,175.8 591.7,175.0 586.7,173.3 581.7,172.5 576.7,170.8 571.7,170.0 566.7,169.2 563.3,167.5 559.2,168.3 555.0,167.5 550.8,165.8 546.7,163.3 543.7,160.8"/>
</g>
<g fill="#ffe4e4">
<polygon points="362.5,145.6 365.3,142.2 369.8,141.7 373.8,143.3 372.0,146.7 367.5,148.1 364.1,147.8"/>
<polygon points="399.6,151.2 401.0,147.1 403.7,146.0 405.9,147.1 405.9,155.1 400.1,155.1"/>
<polygon points="398.9,83.4 402.7,85.7 403.4,89.7 398.9,92.5"/>
<polygon points="595.8,124.7 598.0,124.2 599.3,126.3 598.0,128.3 596.0,127.7"/>
<polygon points="178.9,209.2 184.5,207.6 189.0,209.2 192.4,213.3 191.3,217.8 186.8,220.1 182.3,218.9 178.9,216.7"/>
<polygon points="193.1,233.2 196.9,231.4 201.5,232.5 202.6,236.3 199.2,239.3 194.7,238.6"/>
<polygon points="185.6,247.6 189.0,246.7 190.4,249.9 187.9,252.1 185.4,250.8"/>
<polygon points="416.8,260.7 419.1,255.1 423.6,251.7 429.3,249.4 434.9,249.4 439.0,252.1 437.2,255.8 432.7,258.5 429.3,260.7"/>
<polygon points="216.7,268.3 219.2,265.8 223.3,265.0 227.5,266.7 229.2,270.0 227.5,274.2 225.8,278.3 224.2,282.5 220.8,283.3 219.2,280.0 218.3,275.8 216.3,272.5"/>
<polygon points="235.0,280.8 236.7,276.7 239.2,274.2 242.5,275.0 245.0,278.3 244.2,282.5 241.7,286.7 238.3,288.7 235.3,286.7"/>
<polygon points="240.0,299.2 242.5,296.3 245.8,297.0 247.0,300.0 245.0,302.5 241.7,302.5"/>
<polygon points="225.8,309.2 227.5,306.3 230.8,305.8 233.7,308.3 235.0,312.5 233.7,315.8 230.0,316.7 227.0,314.2"/>
<polygon points="234.2,252.5 237.5,251.3 240.3,253.3 239.7,256.3 236.7,257.5 234.3,255.8"/>
<polygon points="388.4,359.4 391.8,358.5 395.2,360.1 394.7,365.7 388.9,365.7"/>
<polygon points="311.7,323.3 315.0,326.7 318.3,331.7 320.0,335.0 322.5,333.3 323.3,329.2 321.7,325.0 320.0,321.7 318.3,319.2 313.3,319.2"/>
<polygon points="330.0,325.0 331.7,330.0 334.2,333.3 336.7,330.8 335.8,326.7 333.3,323.3"/>
<polygon points="345.0,335.8 347.5,333.3 350.8,332.5 353.3,335.0 352.5,339.2 350.0,341.7 346.7,340.8 345.0,338.3"/>
<polygon points="350.8,319.2 355.8,319.2 357.5,323.3 355.0,326.7 351.7,325.0"/>
<polygon points="235.4,155.1 237.9,154.6 238.3,157.3 235.8,157.8"/>
<polygon points="206.7,242.5 215.0,242.5 215.8,249.2 214.2,253.3 210.8,255.8 207.5,254.2 205.8,250.0"/>
</g>
<g fill="#ff8080">
<polygon points="187.0,64.2 189.3,59.7 192.7,56.3 196.0,52.9 199.4,48.4 204.4,48.4 204.4,54.0 203.5,58.6 200.6,62.6 197.2,65.8 193.1,68.1 189.3,68.7 187.0,67.1"/>
<polygon points="112.7,76.6 114.9,76.2 115.8,80.0 115.4,83.4 113.6,83.9 112.7,80.7"/>
<polygon points="427.1,54.0 430.5,50.6 436.2,48.4 474.6,48.4 474.1,55.2 471.9,59.7 472.8,65.3 473.4,69.9 470.1,73.2 466.7,72.1 465.5,76.6 467.8,80.0 473.4,81.2 474.6,83.9 471.2,85.7 466.7,84.5 464.4,86.8 460.6,89.1 456.5,87.9 453.1,90.2 449.7,92.0 446.3,89.1 442.9,87.9 439.5,90.2 436.2,87.9 431.6,85.7 427.1,83.4 424.9,78.9 426.7,73.2 429.4,69.9 432.8,67.6 433.4,63.1 431.2,59.0 428.2,57.4"/>
<polygon points="421.5,59.0 424.0,58.6 424.4,61.9 422.1,62.6"/>
<polygon points="480.9,56.3 483.6,52.9 484.1,59.0 481.4,59.7"/>
<polygon points="209.9,340.9 212.6,339.1 214.4,342.0 212.1,344.3"/>
<polygon points="214.4,336.8 216.7,336.8 216.7,340.0 214.4,340.0"/>
</g>
<g fill="#ffb0b0">
<polygon points="443.4,66.5 446.3,64.2 450.2,65.3 451.1,69.4 448.6,72.1 444.7,71.7"/>
<polygon points="458.3,63.1 462.1,61.3 465.5,64.2 467.8,68.7 466.7,72.6 463.3,71.0 460.6,67.6"/>
<polygon points="445.2,50.0 452.0,50.0 451.5,53.6 446.3,54.0"/>
</g>
<g fill="#e4e4ff">
<polygon points="121.5,95.2 126.0,94.3 131.6,95.2 131.2,99.2 127.1,101.5 122.6,100.4"/>
<polygon points="113.6,103.3 116.9,102.6 117.6,108.3 116.3,112.8 114.0,112.3"/>
<polygon points="119.2,105.6 122.6,104.9 124.0,108.3 123.1,111.9 119.9,111.7"/>
<polygon points="132.8,103.3 136.2,102.6 136.6,107.1 135.0,110.1 133.0,108.3"/>
<polygon points="152.0,99.7 156.5,99.2 158.3,103.3 156.5,107.1 153.1,106.0"/>
<polygon points="236.7,64.2 241.2,61.3 246.9,60.8 249.6,62.6 246.9,66.5 242.4,68.7 238.3,67.6"/>
<polygon points="243.5,78.9 246.9,74.4 250.3,73.2 254.8,76.6 258.2,78.9 255.9,82.3 250.3,83.4 245.8,83.0"/>
<polygon points="253.7,58.6 257.1,54.0 262.7,51.8 262.7,63.1 255.9,62.6"/>
<polygon points="204.4,83.0 208.0,82.3 208.9,85.7 206.2,87.5 204.4,85.7"/>
<polygon points="250.0,61.9 252.3,57.4 256.8,52.9 263.6,50.6 272.6,50.6 279.4,52.9 286.2,51.8 295.2,51.3 300.8,51.8 303.1,55.2 306.5,58.6 313.3,59.0 320.1,58.6 323.4,60.8 324.1,65.3 322.3,69.4 317.8,68.7 313.3,66.5 308.8,65.3 304.2,66.5 299.7,67.6 295.2,66.5 290.7,68.7 286.2,71.0 280.5,71.0 277.1,68.7 273.7,65.3 270.3,64.2 265.8,63.1 261.3,64.2 256.8,65.3 252.3,64.2"/>
<polygon points="250.0,77.8 255.6,77.8 258.6,80.0 255.6,82.3 250.0,82.3"/>
<polygon points="296.3,77.1 299.3,76.6 299.7,78.9 297.0,79.4"/>
<polygon points="307.6,91.3 309.9,86.8 312.8,87.9 313.7,93.6 315.5,99.2 314.4,104.2 311.0,107.1 306.9,104.9 306.5,98.1"/>
<polygon points="340.8,65.3 342.7,61.9 346.0,63.1 347.2,67.6 344.9,71.0 341.5,69.4"/>
<polygon points="323.4,81.2 328.0,78.4 334.7,78.9 340.4,77.8 346.0,77.1 349.0,80.0 349.4,85.7 351.2,90.2 349.4,94.7 344.9,96.5 339.3,97.4 334.7,99.2 330.2,102.6 326.8,101.0 324.6,98.1 322.8,93.6 324.6,89.1 324.1,84.5"/>
<polygon points="368.6,86.8 372.0,86.8 372.0,91.3 368.6,91.3"/>
<polygon points="45.8,247.2 49.2,244.5 54.9,243.1 61.6,243.8 68.4,244.9 75.2,246.7 82.0,248.3 88.8,249.4 95.5,249.9 102.3,250.6 108.0,252.8 106.8,255.8 101.2,256.7 94.4,256.2 87.6,255.1 80.8,253.5 74.1,252.8 67.3,252.8 60.5,252.8 53.7,252.1 48.1,250.6"/>
<polygon points="95.0,238.9 98.4,237.8 101.8,237.2 106.3,237.8 110.8,238.9 114.8,238.3 117.6,236.6 120.4,234.6 123.2,232.7 126.6,231.6 130.0,231.2 134.0,231.6 137.4,232.1 140.2,233.0 143.0,234.6 145.3,236.6 147.0,238.9 148.1,241.2 146.4,241.7 144.7,240.0 143.0,238.3 140.2,237.8 137.4,237.2 134.5,237.2 131.7,237.8 128.9,238.3 126.1,238.9 123.2,240.0 120.4,241.2 117.0,241.7 113.6,242.1 109.7,241.7 105.7,241.4 101.8,241.7 98.4,242.1 95.0,242.3"/>
<polygon points="141.9,242.9 144.7,243.4 147.5,244.5 149.0,246.6 147.5,247.9 145.3,247.0 143.0,245.5"/>
<polygon points="153.2,244.5 154.9,244.0 155.8,246.2 154.9,248.5 153.5,247.7"/>
<polygon points="95.0,253.0 98.4,252.5 102.9,253.4 107.4,253.8 109.7,254.7 108.6,256.1 105.2,256.1 100.6,255.6 97.3,255.3 95.0,255.3"/>
<polygon points="589.3,222.3 591.5,220.1 596.0,219.6 599.4,221.9 599.0,225.7 594.9,227.3 590.8,226.4"/>
<polygon points="606.2,228.0 609.6,224.6 614.1,224.1 618.6,225.7 623.2,228.0 627.0,230.2 629.9,233.6 633.3,237.0 636.7,240.4 640.1,244.9 643.5,249.4 646.9,254.0 648.0,260.1 633.3,260.1 634.5,255.1 631.1,250.6 626.6,249.0 622.0,248.3 617.5,247.2 615.3,242.7 613.0,238.1 609.6,234.7 607.3,231.4"/>
<polygon points="72.9,312.6 75.2,308.1 77.9,305.8 80.2,309.2 80.8,314.2 77.9,317.8 74.1,317.1"/>
<polygon points="75.2,351.0 78.6,348.1 84.2,348.8 89.2,351.0 94.4,352.2 100.1,354.0 106.8,354.4 111.4,356.2 110.2,360.8 105.7,363.5 100.1,365.1 91.0,365.1 86.5,361.2 80.8,357.8 76.3,354.9"/>
<polygon points="117.7,344.3 120.8,340.9 124.9,342.0 127.6,345.4 126.0,349.5 121.5,350.4 118.1,348.1"/>
<polygon points="146.4,335.2 149.8,337.5 153.2,342.0 152.0,344.3 148.6,342.0 145.7,338.6"/>
<polygon points="156.1,338.6 159.9,336.8 163.3,339.7 162.9,344.3 159.3,345.8 156.6,343.1"/>
<polygon points="79.7,253.9 97.8,253.9 96.7,256.8 80.8,256.8"/>
<polygon points="413.7,298.4 416.0,296.8 418.2,299.1 416.0,302.0"/>
<polygon points="607.2,288.9 610.6,286.6 615.1,285.5 618.0,281.0 619.6,275.3 621.9,270.8 625.3,267.4 628.0,264.0 630.9,265.2 633.2,261.8 635.4,257.3 637.7,255.0 645.6,255.0 647.9,259.5 650.1,265.2 652.4,270.8 655.8,275.3 659.2,278.7 662.5,283.2 664.8,288.9 665.9,295.7 664.8,301.3 667.1,305.8 665.9,311.5 663.7,316.0 660.3,319.4 655.8,320.5 650.1,319.4 644.5,317.8 639.9,316.0 637.7,312.6 639.9,309.2 642.2,305.8 639.9,301.3 636.6,297.9 633.2,295.7 628.6,293.9 624.1,292.3 619.6,291.2 615.1,292.3 610.6,293.0 607.6,291.6"/>
<polygon points="548.4,283.2 552.9,282.1 559.7,283.2 566.5,282.6 570.6,283.9 571.0,287.8 566.5,288.9 560.8,287.1 555.2,286.6 550.2,286.2"/>
<polygon points="573.3,299.7 576.0,299.1 577.1,302.5 575.1,304.3"/>
<polygon points="594.1,295.7 597.0,295.7 597.0,297.0 594.1,297.0"/>
<polygon points="618.0,309.7 621.2,309.7 621.2,311.9 618.0,311.9"/>
<polygon points="658.7,327.3 661.9,325.1 664.1,328.4 663.2,334.1 660.3,334.5 658.7,331.4"/>
<polygon points="76.3,351.5 79.7,348.5 85.4,349.2 89.9,351.5 94.4,351.5 100.1,352.6 106.8,353.7 111.4,356.0 111.8,360.5 109.1,363.9 104.6,363.4 100.1,365.0 95.5,367.3 91.0,368.4 87.6,370.7 84.2,372.9 83.1,369.5 84.2,365.0 87.6,361.6 86.5,358.2 83.1,356.0 78.6,355.3"/>
<polygon points="59.4,372.9 61.6,368.4 65.0,367.3 66.6,370.7 65.7,376.3 65.0,382.0 63.4,386.0 60.5,384.2 59.4,378.6"/>
<polygon points="110.2,374.1 112.5,369.5 117.0,367.3 122.7,368.4 127.2,370.2 131.7,368.4 135.1,365.0 138.0,362.1 140.3,365.0 139.6,370.7 136.2,375.2 132.8,378.6 129.4,382.0 124.9,383.1 119.3,381.5 114.7,380.8 110.9,378.6"/>
<polygon points="656.9,328.9 665.9,328.9 664.8,332.7 661.0,334.5 658.0,332.7"/>
</g>
<g fill="#f0fff0">
<polygon points="628.6,266.3 632.0,265.2 635.4,267.4 639.9,270.8 644.5,275.3 648.3,279.9 651.2,283.2 649.0,285.5 644.5,283.2 639.9,279.9 635.4,276.5 631.6,274.2 628.6,270.8"/>
<polygon points="658.0,302.5 661.4,300.2 664.8,301.3 665.9,305.8 662.5,308.1 659.2,306.5"/>
</g>
<g fill="#b0b0ff">
<polygon points="119.9,107.4 121.9,106.9 122.4,111.0 120.3,111.4"/>
<polygon points="281.6,58.6 283.9,55.8 288.4,55.2 292.5,57.4 293.4,61.9 290.7,65.8 286.2,66.7 282.8,64.2"/>
<polygon points="260.8,54.5 264.9,54.5 264.9,58.1 260.8,58.1"/>
<polygon points="56.0,246.0 59.4,244.5 63.9,244.9 68.4,246.7 71.8,248.3 75.2,249.4 78.6,250.6 77.5,252.1 72.9,251.7 67.3,250.6 61.6,249.9 57.1,249.0"/>
<polygon points="625.4,239.3 627.7,237.0 632.2,237.7 635.6,240.4 639.0,244.9 642.4,250.6 644.6,256.2 643.5,260.1 639.0,260.1 638.3,255.1 635.6,250.6 632.2,246.0 628.4,243.1"/>
<polygon points="92.1,355.6 95.5,353.3 99.6,354.4 101.2,358.5 98.9,361.7 94.4,361.7 92.1,359.0"/>
<polygon points="80.8,351.5 83.8,351.0 84.2,353.5 81.5,354.0"/>
<polygon points="157.9,339.1 160.6,338.2 161.5,342.0 159.3,344.0 157.9,342.0"/>
<polygon points="638.8,255.0 643.3,255.0 645.1,258.4 643.3,260.6 640.6,259.1"/>
<polygon points="653.5,310.4 655.8,309.7 657.3,314.2 655.1,315.6 653.5,313.3"/>
<polygon points="649.7,268.1 651.9,268.1 651.9,271.3 649.7,271.3"/>
</g>

<g fill="#707070" stroke="#707070" stroke-width="0.7" stroke-linejoin="round">
<polygon points="30.0,45.0 150.0,45.0 150.0,58.7 143.3,59.2 140.0,60.8 137.5,63.3 135.0,66.7 132.5,69.2 130.0,71.7 128.3,74.2 129.2,76.7 130.8,79.2 132.5,82.5 133.7,85.8 133.3,89.2 132.5,91.7 130.8,94.2 128.3,95.8 125.8,96.7 123.7,95.8 123.3,92.5 124.2,88.3 125.0,85.0 123.3,82.5 120.8,80.8 120.0,77.5 118.3,75.0 115.0,74.2 111.7,75.8 110.0,78.3 107.5,79.2 105.8,77.5 106.7,74.7 108.3,72.5 109.2,70.3 107.5,69.2 105.0,70.0 102.5,72.5 100.8,74.7 96.7,76.3 95.0,78.0 98.3,80.0 100.0,82.5 102.0,84.2 103.3,83.7 105.8,82.5 109.2,82.0 112.0,83.0 111.3,85.0 108.3,86.7 105.0,88.7 102.0,91.7 100.8,94.2 103.3,96.7 104.7,100.0 105.8,103.3 107.0,108.3 108.3,111.7 110.0,115.0 109.2,118.3 107.0,122.5 105.0,126.0 30.0,126.0"/>
<polygon points="125.0,48.0 157.8,48.0 157.8,50.0 156.1,52.5 153.8,55.3 151.6,57.6 149.3,58.7 146.5,59.3 143.6,59.3 141.4,59.9 139.1,61.6 136.9,63.8 135.2,66.1 132.9,68.9 130.1,71.7 127.8,74.6 129.5,76.8 131.2,79.6 132.9,81.9 134.6,85.3 135.2,88.7 134.6,91.5 132.9,93.2 130.1,94.3 127.3,94.9 125.0,95.2"/>
<polygon points="174.7,48.0 195.1,48.0 195.1,50.0 192.8,52.0 190.0,53.6 188.3,55.3 187.7,57.6 186.0,58.7 183.8,59.3 182.1,61.0 180.9,63.3 179.2,62.7 177.5,61.0 175.3,61.6 173.6,62.7 171.9,62.1 170.2,60.4 170.8,58.2 172.5,57.0 174.2,55.9 174.7,53.1"/>
<polygon points="170.2,63.8 172.5,63.6 174.7,64.9 176.1,68.3 176.8,71.7 177.0,75.1 176.1,78.5 174.9,81.3 173.8,83.6 173.4,86.4 173.0,89.2 172.5,91.5 172.5,85.0 171.9,88.4 171.3,90.6 169.6,92.3 167.9,93.5 166.2,92.9 164.5,94.0 162.3,94.6 160.0,95.7 158.3,96.9 157.2,98.6 155.5,99.7 153.8,99.1 152.7,97.4 152.1,98.6 150.4,99.7 148.7,99.1 147.0,100.3 145.9,101.9 144.2,102.5 142.5,101.9 141.4,103.6 140.8,105.9 140.3,108.2 138.0,109.6 136.3,107.6 136.3,104.8 135.2,102.5 134.6,100.8 134.6,99.7 136.3,97.4 139.1,95.7 141.9,94.0 144.8,92.3 147.6,91.2 151.0,90.1 154.4,89.5 156.6,87.5 157.8,86.5 157.8,86.4 158.3,84.7 159.5,83.0 161.7,81.3 164.0,79.6 165.5,77.6 166.8,75.1 167.9,72.3 168.8,69.5 169.3,66.6"/>
<polygon points="127.8,127.9 128.4,125.9 130.1,124.9 130.9,125.7 129.5,127.4 128.6,128.8"/>
<polygon points="30.0,118.3 105.8,118.3 105.8,120.0 105.0,125.0 102.5,129.2 100.0,132.5 96.7,135.8 93.3,138.3 89.2,140.8 85.0,142.5 80.8,143.3 76.7,145.0 73.3,146.7 71.3,148.7 70.0,147.5 68.0,146.7 65.8,145.0 63.3,144.7 60.8,146.3 58.3,148.3 55.8,150.8 54.7,153.3 55.8,155.8 57.5,158.3 60.0,160.8 62.5,162.5 64.2,165.0 65.3,168.3 66.3,171.7 66.7,175.0 65.8,178.3 64.2,180.8 61.7,183.0 58.3,185.0 55.8,186.7 53.3,188.3 51.7,189.2 50.8,186.7 49.2,184.2 46.7,182.5 44.2,180.8 41.7,179.2 39.2,177.5 36.7,175.8 35.0,174.2 30.0,174.2"/>
<polygon points="65.0,150.3 67.5,149.2 70.8,149.7 72.5,151.7 71.7,154.7 69.2,156.7 65.8,156.3 64.2,154.2 64.2,152.0"/>
<polygon points="105.8,131.3 108.3,130.8 109.7,133.3 109.2,136.7 108.0,140.0 106.3,143.0 104.7,142.5 103.7,139.2 103.8,135.8 104.7,133.3"/>
<polygon points="104.1,155.5 106.2,154.9 108.7,155.3 110.4,156.4 110.8,158.5 110.4,161.0 109.6,163.6 108.3,165.3 107.9,167.4 108.3,169.1 109.6,170.3 112.1,170.3 114.7,171.0 117.2,171.6 117.6,172.9 116.4,173.7 114.7,174.2 113.4,173.7 112.1,173.3 110.4,172.9 109.2,173.7 107.9,175.0 107.5,176.7 106.2,177.1 105.3,175.8 104.5,173.7 103.6,171.6 102.8,169.1 101.9,166.5 101.5,164.4 101.9,162.7 102.8,160.6 103.2,158.1"/>
<polygon points="100.3,180.1 101.3,180.5 101.1,182.2 99.0,184.7 96.9,187.3 94.7,189.4 93.5,191.0 92.2,191.0 93.9,188.6 96.0,186.4 98.1,183.9 99.6,181.8"/>
<polygon points="102.3,165.0 107.4,165.0 108.0,167.3 108.6,170.1 109.7,170.6 111.9,170.1 114.8,170.6 117.0,171.2 117.6,172.9 115.9,173.8 113.6,173.5 111.9,174.0 110.3,173.5 108.6,174.6 107.4,176.9 105.7,177.4 104.6,175.2 103.8,172.3 102.9,169.0"/>
<polygon points="108.6,178.6 110.8,178.0 113.1,176.9 114.8,175.7 117.0,175.2 119.3,175.7 121.0,177.4 121.9,179.7 121.6,181.9 120.4,184.2 118.7,185.3 117.0,184.8 115.9,186.5 114.2,187.0 112.5,185.9 111.4,187.6 110.3,187.0 109.5,184.8 108.8,181.9"/>
<polygon points="108.6,193.2 110.8,191.6 113.1,190.4 115.9,189.3 117.6,187.6 119.9,186.5 122.1,187.0 123.8,188.7 124.6,191.6 124.4,194.4 123.2,196.6 122.1,198.3 121.0,200.0 119.3,199.5 117.6,198.3 115.9,197.8 115.1,195.5 114.2,193.8 112.5,194.4 110.8,195.5 109.5,197.2 108.3,196.1"/>
<polygon points="95.0,186.5 96.7,184.8 98.4,183.1 100.1,180.8 101.6,179.7 102.0,181.0 100.6,183.1 99.0,185.3 97.0,187.4 95.6,188.7 95.0,188.7"/>
<polygon points="93.9,197.8 96.7,198.3 99.0,200.0 100.1,201.7 99.0,202.9 97.3,204.0 96.1,206.2 93.9,206.8"/>
<polygon points="93.9,210.2 96.7,211.3 98.4,213.6 99.0,215.8 97.3,216.4 93.9,215.8"/>
<polygon points="101.8,218.6 102.9,215.8 105.2,214.7 108.0,214.5 110.8,214.7 113.6,214.9 115.9,214.7 117.6,213.6 119.3,212.2 120.1,213.4 119.3,215.3 117.6,217.0 115.9,217.9 113.1,218.1 109.7,218.1 106.3,218.3 103.5,219.2"/>
<polygon points="127.2,213.6 128.3,211.3 130.0,210.2 131.7,210.0 132.1,211.3 130.9,213.0 130.6,215.3 131.7,217.0 132.3,219.2 128.9,219.2 127.8,216.4"/>
<polygon points="136.8,218.6 137.9,217.9 139.6,218.1 140.2,219.2 137.9,219.5"/>
<polygon points="30.0,183.2 36.8,183.2 36.8,190.0 38.5,192.3 40.7,195.1 43.0,197.9 44.7,200.7 46.4,204.1 47.5,207.5 48.6,210.3 50.3,213.2 51.2,215.4 49.8,216.2 48.1,214.9 46.4,213.2 44.1,210.9 41.9,208.6 39.9,206.4 38.1,203.6 36.8,200.7 35.6,197.3 35.0,194.5 30.0,194.5"/>
<polygon points="30.0,209.8 35.0,209.8 36.8,210.3 39.0,212.0 41.9,214.3 44.7,217.1 46.9,219.6 49.2,222.2 51.5,223.9 53.7,224.5 55.4,225.9 56.6,228.4 56.0,231.2 55.4,234.1 54.9,236.9 53.7,238.8 52.0,238.0 49.8,236.3 47.5,234.1 45.3,231.2 43.0,228.4 40.7,225.6 38.8,222.8 37.0,219.9 35.6,217.1 35.0,214.9 30.0,214.9"/>
<polygon points="60.3,227.9 61.6,227.1 63.3,227.9 63.0,229.5 61.4,230.1 60.3,229.3"/>
<polygon points="56.7,226.8 57.8,226.6 58.0,227.7 56.9,228.0"/>
<polygon points="62.0,204.9 63.3,204.5 64.1,205.6 63.3,206.9 62.1,206.5"/>
<polygon points="91.0,196.2 92.7,195.1 95.0,195.6 97.2,197.3 99.2,199.0 100.1,200.7 99.2,202.4 97.2,203.6 95.5,205.3 96.1,207.5 97.2,210.3 98.4,213.2 99.2,215.4 97.8,216.6 96.1,217.1 95.0,219.4 94.2,222.2 93.3,225.0 92.1,227.9 90.5,230.1 88.2,231.2 85.9,232.4 84.2,231.8 82.5,230.1 80.3,230.1 78.0,230.7 75.8,230.1 73.5,229.3 71.2,229.0 69.5,227.3 68.4,224.5 67.3,221.6 66.2,218.8 65.3,216.0 65.6,213.2 67.3,212.0 69.5,212.0 71.8,210.9 74.1,209.4 76.3,208.6 78.6,207.5 80.3,205.8 82.0,204.1 84.0,202.4 85.9,200.7 87.6,199.0 89.3,197.3"/>
<polygon points="53.3,238.0 57.5,238.0 61.7,239.3 66.7,240.3 71.7,241.2 76.7,242.0 80.8,242.8 83.3,244.3 86.7,246.0 91.7,246.5 96.7,246.2 99.2,247.7 98.3,250.0 94.2,250.5 89.2,250.2 85.0,249.7 80.0,248.7 75.0,247.5 70.0,246.7 65.0,245.5 60.0,244.2 55.8,242.5 53.3,240.8"/>
<polygon points="101.8,218.6 102.3,216.3 104.0,214.9 106.9,214.6 109.7,214.9 112.5,215.2 115.3,214.9 117.4,214.0 119.0,212.3 120.1,213.1 119.6,215.2 118.2,216.9 115.9,217.7 113.1,217.7 110.3,217.4 107.4,218.0 105.2,218.6 105.2,219.7 104.6,221.4 106.3,222.5 108.6,221.7 111.4,220.8 113.6,220.6 114.8,221.7 113.6,223.6 111.4,224.0 109.1,224.4 107.7,225.9 108.6,228.2 110.3,230.4 111.9,232.7 113.1,234.9 113.3,237.2 111.9,238.3 110.3,237.2 109.1,234.9 107.7,232.7 106.3,230.4 104.9,228.2 104.0,229.9 103.8,232.7 103.8,235.5 103.1,237.8 101.2,237.8 100.4,234.9 100.1,232.1 99.0,229.9 98.4,227.0 99.3,224.8 100.4,222.5 100.9,220.3"/>
<polygon points="127.2,214.6 128.0,211.8 129.8,210.1 131.7,209.7 132.1,211.6 131.2,213.5 131.4,215.7 132.3,217.4 131.7,219.1 130.6,220.8 128.9,221.7 127.5,220.8 127.8,218.6 127.2,216.3"/>
<polygon points="116.7,224.4 119.3,224.0 122.7,224.2 123.5,225.3 121.0,225.9 117.6,225.8"/>
<polygon points="126.9,223.3 128.9,222.9 130.3,223.6 129.5,224.8 127.2,224.4"/>
<polygon points="134.8,224.8 136.8,224.2 138.5,225.1 137.7,226.2 135.5,226.0"/>
<polygon points="122.1,229.3 124.4,228.7 126.6,229.3 126.4,231.0 124.6,231.9 122.7,231.2"/>
<polygon points="128.3,228.7 131.2,228.2 134.5,228.2 137.4,228.7 139.1,230.1 138.5,231.6 136.2,231.2 133.4,230.8 130.6,230.8 128.7,230.1"/>
<polygon points="149.2,238.9 150.4,237.2 151.7,236.9 152.4,238.7 151.7,240.9 150.4,242.3 149.2,241.2"/>
<polygon points="139.6,243.4 140.8,242.1 141.9,242.5 141.3,244.5 140.0,245.5"/>
<polygon points="95.0,246.2 98.4,246.8 101.8,247.4 105.2,247.0 108.6,246.6 111.9,246.2 113.6,245.9 114.0,247.0 111.9,247.7 108.6,248.2 105.2,248.5 101.8,248.8 98.4,248.5 95.0,247.9 91.6,247.7 91.6,245.9"/>
<polygon points="99.0,250.8 101.2,250.2 103.5,250.8 104.6,251.9 102.9,253.0 100.6,252.7 99.3,251.9"/>
<polygon points="111.9,254.7 113.6,253.0 115.9,251.3 118.2,249.6 120.4,248.2 122.7,247.0 124.9,245.9 126.6,245.7 126.9,247.0 125.3,248.5 123.0,249.6 120.8,251.1 118.5,252.5 116.2,254.2 114.2,255.6 112.5,256.1"/>
<polygon points="121.6,244.5 123.8,244.0 125.5,244.5 124.6,245.7 122.1,245.7"/>
<polygon points="136.2,218.6 138.5,218.0 141.3,219.5 144.7,220.0 148.1,220.6 150.9,221.7 153.8,221.4 156.0,220.8 157.7,221.9 158.8,223.1 161.1,222.9 163.9,223.3 167.3,224.4 170.7,225.9 176.4,227.6 176.4,250.2 170.7,249.6 167.3,248.5 163.9,247.9 161.7,246.8 162.2,245.1 162.8,242.9 162.2,240.6 160.5,238.3 158.3,236.6 156.0,235.5 153.8,234.6 151.5,233.8 149.2,233.2 147.0,232.1 145.3,230.4 144.2,228.2 143.0,225.9 141.3,224.2 139.1,222.5 137.4,220.8"/>
<polygon points="146.7,220.0 149.2,222.5 150.0,225.0 152.5,227.5 155.0,228.3 156.7,226.7 158.3,224.7 160.8,223.3 164.2,223.7 167.5,224.7 170.8,225.8 174.2,227.5 177.5,229.2 180.8,230.8 184.2,232.5 186.7,234.2 189.2,236.7 191.7,238.3 194.2,238.7 195.8,240.0 195.0,242.5 193.3,244.2 195.0,245.8 197.5,248.0 200.0,250.0 203.3,250.8 205.8,251.7 206.7,253.3 204.2,254.7 200.8,253.7 197.5,252.5 194.2,250.8 191.7,249.2 189.2,247.5 186.7,245.8 184.2,246.7 181.7,248.0 179.2,249.2 176.7,248.7 174.2,247.0 170.8,246.3 167.5,245.8 165.0,246.7 162.5,247.0 161.7,245.8 163.3,244.2 165.0,242.5 164.2,240.0 162.5,237.5 160.0,235.0 157.5,233.3 155.0,232.5 152.5,230.8 150.0,229.2 147.5,228.3"/>
<polygon points="197.5,237.5 200.8,238.0 204.2,237.5 207.5,235.8 210.0,234.2 212.5,232.5 213.3,234.2 211.7,236.7 208.3,238.7 205.0,239.7 201.7,239.7 198.3,239.2"/>
<polygon points="204.2,226.3 207.5,227.0 210.8,229.2 213.3,232.5 212.5,233.7 210.0,230.8 206.7,228.7 203.3,227.7"/>
<polygon points="190.8,225.5 194.2,225.0 194.7,226.2 191.7,226.7"/>
<polygon points="218.3,237.5 220.8,238.0 223.3,240.8 222.5,242.0 220.0,240.3 218.3,238.7"/>
<polygon points="224.2,241.3 226.7,242.5 228.3,244.2 227.0,244.7 225.0,243.3"/>
<polygon points="227.5,245.0 230.0,246.7 229.2,248.0 227.5,246.7"/>
<polygon points="231.3,244.2 234.2,245.3 235.8,247.0 234.2,247.5 231.7,245.8"/>
<polygon points="235.3,250.0 238.3,250.8 240.0,253.0 238.3,253.3 235.8,251.7"/>
<polygon points="238.3,246.7 240.0,247.5 241.3,250.0 240.0,250.3 238.7,248.3"/>
<polygon points="240.8,253.0 243.3,253.7 244.7,255.3 242.5,255.3 240.8,254.2"/>
<polygon points="178.0,254.5 180.7,257.9 181.9,263.6 184.1,266.9 187.5,269.2 188.6,273.7 190.9,278.2 193.2,281.6 196.6,283.9 199.9,287.3 202.2,290.7 204.5,295.2 207.9,298.6 211.2,303.1 213.5,307.6 214.6,313.3 215.1,320.1 214.6,325.7 214.4,320.0 213.3,326.8 211.0,333.6 207.6,340.3 205.4,346.0 203.8,351.6 202.0,356.2 198.6,357.3 194.1,359.5 190.7,361.8 187.3,360.7 183.9,359.5 179.4,360.2 176.0,358.4 172.6,356.2 170.3,352.8 168.1,349.4 165.8,346.7 164.9,347.2 162.7,348.3 160.4,346.0 159.3,342.7 157.0,344.9 154.7,342.7 152.5,339.3 149.1,335.9 145.7,333.6 140.1,331.8 134.4,331.4 128.8,332.5 124.2,334.1 119.7,337.0 116.3,339.3 111.8,340.4 107.3,340.8 102.8,340.4 99.4,341.5 94.9,342.7 90.3,343.1 86.9,341.5 85.4,338.1 86.3,333.6 85.4,329.1 83.6,324.6 82.4,320.1 80.8,315.5 79.5,309.9 80.2,304.2 80.8,298.6 82.4,295.2 85.8,292.9 90.3,290.7 94.9,288.9 99.4,288.0 103.9,286.6 107.3,282.8 109.5,278.2 111.8,274.9 115.2,271.5 118.6,268.5 122.0,266.3 126.5,265.4 129.9,266.9 133.3,265.8 135.5,262.4 136.7,257.9 140.1,256.8 144.6,257.9 149.1,259.0 153.6,259.5 158.1,259.0 159.9,262.4 158.6,266.9 157.0,269.2 159.3,271.5 162.7,273.7 166.0,276.0 169.4,278.2 172.1,276.0 173.5,271.5 174.4,265.8 175.8,260.2 176.7,255.6"/>
<polygon points="185.0,367.5 189.5,368.6 194.1,367.9 197.5,367.0 197.9,370.8 197.0,375.4 195.2,379.2 192.9,382.1 190.2,381.5 188.0,377.6 186.2,373.1 185.0,369.7"/>
<polygon points="182.1,364.1 183.9,363.6 184.4,365.9 182.8,366.3"/>
<polygon points="195.6,364.3 197.5,364.1 197.9,366.3 196.3,366.8"/>
<polygon points="279.0,341.3 280.6,342.1 282.3,343.8 284.5,345.4 286.0,347.3 286.7,349.5 288.2,350.3 289.7,352.2 290.7,354.0 292.5,355.3 294.6,355.3 296.6,354.4 298.3,354.7 299.1,356.1 298.1,358.1 296.9,360.2 295.4,361.8 294.1,363.9 293.2,366.0 291.9,368.2 290.4,370.4 288.8,372.2 287.2,372.5 286.4,370.9 286.7,368.8 286.0,367.0 284.5,365.8 283.0,364.5 282.3,363.0 283.3,361.4 284.8,360.2 285.8,358.4 285.1,356.5 284.3,354.7 283.5,352.8 283.0,350.7 282.3,348.5 281.1,346.6 279.8,344.5 279.1,342.9"/>
<polygon points="278.1,367.6 280.2,368.0 281.8,369.2 283.5,368.8 284.5,370.1 284.3,372.2 283.3,374.1 282.3,376.2 281.4,378.1 280.6,379.9 279.6,381.2 280.6,382.4 279.6,383.6 278.1,383.0 276.5,384.3 275.3,386.1 274.0,389.2 260.5,389.2 262.3,385.7 264.5,384.0 266.6,382.4 268.5,380.8 270.3,379.3 271.9,377.5 273.4,375.6 274.7,373.4 275.9,371.3 276.9,369.2"/>
<polygon points="491.3,41.7 491.3,50.0 490.3,55.0 489.7,60.0 490.0,65.0 490.8,70.0 492.0,74.2 494.2,78.3 496.7,82.5 499.2,86.7 501.3,90.8 503.3,95.0 506.7,97.0 510.0,98.3 512.5,100.8 514.2,104.2 515.8,107.5 517.5,110.8 519.2,113.7 519.2,112.5 520.8,115.8 522.5,118.3 521.7,120.8 523.7,122.5 525.8,124.2 528.0,127.5 530.0,130.8 532.5,133.3 535.0,135.8 537.5,138.3 539.2,140.0 540.3,138.3 539.7,135.8 538.3,133.3 536.7,130.8 534.7,128.3 533.0,125.3 530.8,122.5 529.2,119.7 527.5,116.7 525.8,113.3 524.2,110.0 523.0,107.0 525.8,108.0 528.3,110.8 530.0,114.2 532.5,117.5 535.0,120.8 537.5,124.2 539.7,127.5 541.7,130.8 544.2,134.2 546.7,137.5 549.2,140.0 551.7,142.5 553.3,145.8 554.2,149.2 555.8,151.7 558.3,154.2 561.7,156.7 565.0,158.7 568.3,160.3 571.7,161.7 575.0,163.0 578.3,164.2 582.5,165.0 586.7,164.2 590.0,164.2 593.3,165.3 595.8,167.0 598.0,168.7 598.3,169.2 600.8,171.3 604.2,173.0 607.5,174.2 610.8,175.0 614.2,176.7 616.7,179.2 619.2,181.7 620.8,184.2 621.7,186.0 617.0,178.3 618.7,181.7 621.3,184.7 624.2,187.0 627.0,189.7 630.0,191.7 633.3,192.5 636.7,193.7 638.7,193.0 639.7,190.8 641.3,189.7 643.7,190.0 645.3,191.7 646.3,194.2 647.0,197.5 647.5,200.8 647.0,204.2 645.8,207.5 644.2,210.0 642.5,212.5 640.0,215.0 638.3,217.5 637.5,220.8 636.7,224.2 635.8,227.5 634.7,230.0 633.3,231.7 635.0,233.3 637.5,235.8 639.2,239.2 640.8,242.5 642.5,245.8 644.2,249.2 644.2,250.0 645.8,253.3 647.5,256.7 649.2,260.0 650.8,263.3 652.0,266.7 654.2,269.2 656.7,271.3 660.0,273.3 663.3,275.0 666.7,277.0 669.2,279.2 670.8,282.5 671.7,286.7 671.3,291.7 670.8,296.7 670.0,301.7 669.7,306.7 669.2,311.7 668.3,316.7 667.5,321.7 667.5,320.0 666.7,330.0 665.3,338.3 664.2,345.0 661.7,350.8 660.3,355.8 660.8,362.5 659.7,370.0 658.7,375.8 657.5,379.7 659.2,380.8 660.3,378.3 661.3,376.7 662.0,378.3 661.2,382.5 661.2,390.0 675.0,390.0 675.0,178.3 672.7,178.3 670.0,177.5 667.5,175.8 665.8,177.0 663.3,178.7 660.0,179.7 656.7,180.8 654.2,182.5 652.5,185.0 650.0,187.5 646.7,188.3 644.2,187.0 640.8,186.3 637.5,187.0 634.2,186.3 630.8,184.2 628.3,181.7 627.5,178.3 628.3,175.0 630.0,184.2 628.7,181.7 628.0,178.3 628.3,175.0 628.7,171.7 627.5,168.3 625.0,166.3 621.7,165.3 617.5,165.0 613.3,164.2 611.3,162.5 611.7,160.0 612.5,156.7 614.2,153.3 615.3,150.0 616.7,146.7 615.8,144.7 613.3,144.2 610.0,145.0 606.7,145.8 604.2,147.5 601.7,150.8 598.3,153.3 594.2,155.0 590.0,155.0 586.7,153.3 583.3,148.3 582.5,145.8 581.7,141.7 580.8,137.5 580.3,133.3 580.0,129.2 580.8,125.0 582.5,121.7 585.0,119.2 583.3,116.7 586.7,115.3 590.8,114.7 595.0,114.2 599.2,114.7 602.5,115.3 605.0,116.3 607.5,117.0 609.2,115.0 608.3,113.0 610.8,112.0 614.2,112.5 617.5,113.0 621.7,113.7 625.8,114.2 627.5,115.8 628.7,118.3 629.7,121.7 630.8,125.0 632.5,128.3 634.2,130.8 636.3,132.5 638.0,131.3 638.7,128.3 638.3,125.0 637.5,121.7 636.3,117.5 635.5,113.3 635.0,110.0 635.3,113.3 635.0,110.0 635.8,106.7 637.5,104.2 640.0,101.7 642.5,99.2 645.0,97.5 648.3,95.8 651.7,94.2 653.3,90.8 653.7,87.5 653.3,84.2 654.7,80.8 656.3,77.5 658.3,74.2 660.8,70.8 663.3,68.3 666.7,66.7 670.0,65.8 671.7,64.2 670.8,60.8 671.3,57.5 672.7,55.0 675.0,55.0 675.0,41.7"/>
<polygon points="622.5,142.5 625.0,140.8 628.3,139.7 632.5,139.2 636.7,139.7 640.0,140.3 643.3,141.7 646.7,143.0 650.0,144.7 653.3,146.3 656.7,148.0 659.2,149.7 657.5,150.8 654.2,150.0 650.8,149.2 648.3,149.7 645.8,148.7 643.3,146.7 640.0,145.0 636.7,143.7 633.3,143.0 630.0,143.0 626.7,143.7 624.2,144.2"/>
<polygon points="658.3,152.5 661.7,151.3 665.0,150.3 668.3,150.8 671.7,151.7 675.0,152.5 675.0,157.5 670.0,158.3 666.7,157.5 664.2,155.8 661.7,155.0 659.2,154.2"/>
<polygon points="657.0,155.0 660.0,154.7 663.3,156.3 661.7,157.5 658.3,156.7"/>
<polygon points="644.2,155.8 647.5,155.0 650.8,155.8 652.0,157.5 649.2,158.7 645.8,158.0"/>
<polygon points="646.7,125.0 648.7,124.7 649.7,126.7 648.3,128.3 647.0,127.0"/>
<polygon points="644.2,131.7 646.3,131.3 647.5,134.2 648.0,136.7 646.3,137.0 645.0,134.7"/>
<polygon points="660.0,145.3 662.5,145.0 663.0,146.7 660.8,147.0"/>
<polygon points="600.0,218.0 601.7,218.3 602.5,220.8 601.3,222.5 600.0,220.8"/>
<polygon points="370.9,141.7 373.2,141.7 373.6,144.0 371.4,144.0"/>
<polygon points="376.6,143.3 378.8,143.5 379.3,145.8 377.0,145.8"/>
<polygon points="380.6,145.6 383.3,146.0 383.8,148.1 381.1,147.8"/>
<polygon points="383.8,148.5 386.7,147.8 388.3,150.8 387.4,153.9 384.7,153.0"/>
<polygon points="249.9,287.1 252.1,286.6 255.5,289.4 258.9,292.3 261.2,295.7 259.6,297.0 256.7,294.5 253.3,291.6 250.6,288.9"/>
<polygon points="257.8,268.1 259.6,268.6 261.2,271.9 262.8,275.3 261.2,275.8 258.9,272.6"/>
<polygon points="294.0,277.6 297.3,275.8 301.2,273.5 303.4,274.2 302.5,277.1 298.9,279.4 295.1,280.3"/>
<polygon points="326.7,263.6 329.7,264.0 332.8,265.8 331.9,267.2 328.3,265.8"/>
<polygon points="260.1,289.4 261.9,289.4 261.9,291.6 260.1,291.6"/>
</g>
<g fill="#ffb0b0">
<polygon points="150.9,223.6 152.6,222.9 154.3,223.6 156.0,223.1 156.9,224.8 156.0,227.0 154.7,228.7 153.2,229.3 151.7,228.2 150.6,226.5"/>
<polygon points="524.2,107.0 526.7,108.0 530.0,112.5 533.0,116.7 535.8,120.8 538.7,125.0 541.3,129.2 543.7,133.3 546.3,137.0 548.3,140.3 545.8,141.7 543.3,138.7 540.8,135.0 538.3,130.8 535.8,126.7 533.3,122.5 530.8,118.3 528.3,114.2 525.8,110.3"/>
<polygon points="666.3,184.7 668.3,184.2 669.0,186.3 668.3,188.0 666.7,187.7"/>
</g>
<g fill="#ff8080">
<polygon points="531.7,118.0 533.7,118.0 536.7,122.5 539.7,127.5 541.7,131.7 540.0,132.5 537.5,128.7 534.7,124.2 532.5,120.3"/>
</g>
<g fill="#707070">
<polygon points="520.0,111.7 523.3,108.3 525.8,110.3 528.3,114.2 530.8,118.3 533.3,122.5 535.8,126.7 538.3,130.8 540.8,135.0 540.3,139.2 538.3,140.0 535.3,136.7 532.5,133.3 529.2,129.2 525.8,125.0 523.3,121.7 520.8,118.0"/>
</g>
<g stroke="#000" stroke-width="0.7" stroke-dasharray="1 1" stroke-opacity="0.5" fill="none">
<line x1="102.5" y1="50" x2="102.5" y2="387.7"/>
<line x1="203.3" y1="50" x2="203.3" y2="387.7"/>
<line x1="303.6" y1="50" x2="303.6" y2="387.7"/>
<line x1="404.5" y1="50" x2="404.5" y2="387.7"/>
<line x1="505.0" y1="50" x2="505.0" y2="387.7"/>
<line x1="605.6" y1="50" x2="605.6" y2="387.7"/>
<line x1="35" y1="113.5" x2="672.7" y2="113.5" stroke-dasharray="1.35 0.65"/>
<line x1="35" y1="218.5" x2="672.7" y2="218.5" stroke-dasharray="1.35 0.65"/>
<line x1="35" y1="324.5" x2="672.7" y2="324.5" stroke-dasharray="1.35 0.65"/>
</g>
</g>
<g font-size="6.8" fill="#000" stroke="#000" stroke-width="0.12">
<text x="103.0" y="400.2" text-anchor="middle">120°E</text>
<text x="203.8" y="400.2" text-anchor="middle">150°E</text>
<text x="304.1" y="400.2" text-anchor="middle">180°</text>
<text x="405.0" y="400.2" text-anchor="middle">150°W</text>
<text x="505.5" y="400.2" text-anchor="middle">120°W</text>
<text x="606.1" y="400.2" text-anchor="middle">90°W</text>
<text x="28.3" y="115.8" text-anchor="end">30°N</text>
<text x="28.3" y="220.8" text-anchor="end">0°</text>
<text x="28.3" y="326.8" text-anchor="end">30°S</text>
</g>
<g>
<rect x="180.40" y="418.5" width="38.93" height="19.600000000000023" fill="#5050ff"/>
<rect x="219.03" y="418.5" width="38.93" height="19.600000000000023" fill="#8080ff"/>
<rect x="257.66" y="418.5" width="38.93" height="19.600000000000023" fill="#b0b0ff"/>
<rect x="296.29" y="418.5" width="38.93" height="19.600000000000023" fill="#e4e4ff"/>
<rect x="334.92" y="418.5" width="38.93" height="19.600000000000023" fill="#f0fff0"/>
<rect x="373.55" y="418.5" width="38.93" height="19.600000000000023" fill="#ffe4e4"/>
<rect x="412.18" y="418.5" width="38.93" height="19.600000000000023" fill="#ffb0b0"/>
<rect x="450.81" y="418.5" width="38.93" height="19.600000000000023" fill="#ff8080"/>
<rect x="489.44" y="418.5" width="38.93" height="19.600000000000023" fill="#ff5050"/>
<polygon points="180.4,418.5 141.77,428.3 180.4,438.1" fill="#2020ff"/>
<polygon points="528.07,418.5 566.7,428.3 528.07,438.1" fill="#ff2020"/>
<polygon points="141.77,428.3 180.4,418.5 528.07,418.5 566.7,428.3 528.07,438.1 180.4,438.1" fill="none" stroke="#000" stroke-width="0.9" stroke-linejoin="miter"/>
<line x1="180.40" y1="418.5" x2="180.40" y2="440.70000000000005" stroke="#000" stroke-width="0.7" stroke-opacity="0.85"/>
<line x1="219.03" y1="418.5" x2="219.03" y2="440.70000000000005" stroke="#000" stroke-width="0.7" stroke-opacity="0.85"/>
<line x1="257.66" y1="418.5" x2="257.66" y2="440.70000000000005" stroke="#000" stroke-width="0.7" stroke-opacity="0.85"/>
<line x1="296.29" y1="418.5" x2="296.29" y2="440.70000000000005" stroke="#000" stroke-width="0.7" stroke-opacity="0.85"/>
<line x1="334.92" y1="418.5" x2="334.92" y2="440.70000000000005" stroke="#000" stroke-width="0.7" stroke-opacity="0.85"/>
<line x1="373.55" y1="418.5" x2="373.55" y2="440.70000000000005" stroke="#000" stroke-width="0.7" stroke-opacity="0.85"/>
<line x1="412.18" y1="418.5" x2="412.18" y2="440.70000000000005" stroke="#000" stroke-width="0.7" stroke-opacity="0.85"/>
<line x1="450.81" y1="418.5" x2="450.81" y2="440.70000000000005" stroke="#000" stroke-width="0.7" stroke-opacity="0.85"/>
<line x1="489.44" y1="418.5" x2="489.44" y2="440.70000000000005" stroke="#000" stroke-width="0.7" stroke-opacity="0.85"/>
<line x1="528.07" y1="418.5" x2="528.07" y2="440.70000000000005" stroke="#000" stroke-width="0.7" stroke-opacity="0.85"/>
<text x="180.40" y="449.6" text-anchor="middle" font-size="9">-4</text>
<text x="219.03" y="449.6" text-anchor="middle" font-size="9">-3</text>
<text x="257.66" y="449.6" text-anchor="middle" font-size="9">-2</text>
<text x="296.29" y="449.6" text-anchor="middle" font-size="9">-1</text>
<text x="334.92" y="449.6" text-anchor="middle" font-size="9">-0.5</text>
<text x="373.55" y="449.6" text-anchor="middle" font-size="9">0.5</text>
<text x="412.18" y="449.6" text-anchor="middle" font-size="9">1</text>
<text x="450.81" y="449.6" text-anchor="middle" font-size="9">2</text>
<text x="489.44" y="449.6" text-anchor="middle" font-size="9">3</text>
<text x="528.07" y="449.6" text-anchor="middle" font-size="9">4</text>
</g>
<text x="354.3" y="470.2" text-anchor="middle" font-size="10" fill="#000">°C</text>
<g font-size="9.05" fill="#000">
<text x="7" y="463.5">Data: ABOM BNOC</text>
<text x="7" y="473.4">Climatology baseline: 1961 to 1990</text>
<text x="7" y="483.3">© Commonwealth of Australia 2019, Australian Bureau of Meteorology</text>
<text x="489.8" y="483.3" text-anchor="middle">http://www.bom.gov.au/climate</text>
<text x="701.3" y="473.4" text-anchor="end">Monthly average: July 2019</text>
<text x="701.3" y="483.3" text-anchor="end">Created: 05/08/2019</text>
</g>
</svg>
</body>
</html>
